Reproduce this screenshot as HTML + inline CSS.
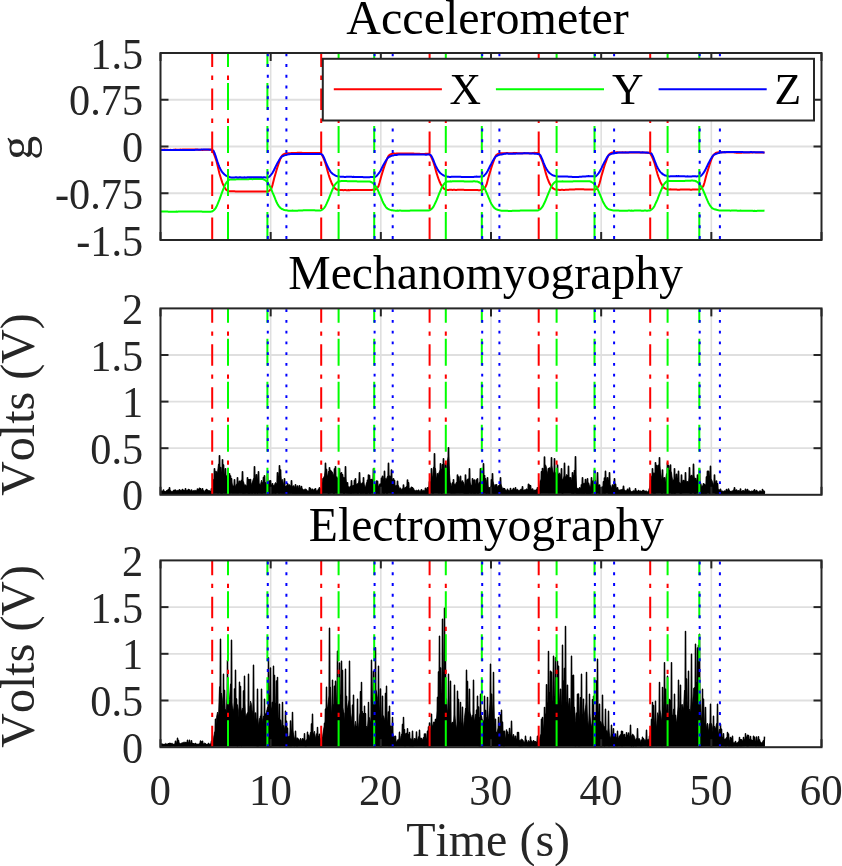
<!DOCTYPE html>
<html lang="en"><head><meta charset="utf-8"><title>Accelerometer, Mechanomyography, Electromyography</title>
<style>html,body{margin:0;padding:0;background:#fff;}svg{display:block;will-change:transform;}text{font-kerning:none;}</style></head>
<body>
<svg width="842" height="866" viewBox="0 0 842 866">
<rect x="0" y="0" width="842" height="866" fill="#ffffff"/>
<line x1="270.67" y1="53.0" x2="270.67" y2="240.0" stroke="#dfdfdf" stroke-width="1.6"/>
<line x1="380.83" y1="53.0" x2="380.83" y2="240.0" stroke="#dfdfdf" stroke-width="1.6"/>
<line x1="491.00" y1="53.0" x2="491.00" y2="240.0" stroke="#dfdfdf" stroke-width="1.6"/>
<line x1="601.17" y1="53.0" x2="601.17" y2="240.0" stroke="#dfdfdf" stroke-width="1.6"/>
<line x1="711.33" y1="53.0" x2="711.33" y2="240.0" stroke="#dfdfdf" stroke-width="1.6"/>
<line x1="160.5" y1="99.75" x2="821.5" y2="99.75" stroke="#dfdfdf" stroke-width="1.8"/>
<line x1="160.5" y1="146.50" x2="821.5" y2="146.50" stroke="#dfdfdf" stroke-width="1.8"/>
<line x1="160.5" y1="193.25" x2="821.5" y2="193.25" stroke="#dfdfdf" stroke-width="1.8"/>
<path d="M160.5 149.8 L161.5 149.7 L162.5 149.7 L163.5 149.7 L164.5 149.6 L165.5 149.7 L166.5 149.7 L167.5 149.7 L168.5 149.9 L169.5 149.9 L170.5 149.8 L171.5 149.9 L172.5 149.9 L173.5 149.8 L174.5 149.7 L175.5 149.6 L176.5 149.7 L177.5 149.8 L178.5 149.8 L179.5 149.8 L180.5 149.6 L181.5 149.7 L182.5 149.6 L183.5 149.5 L184.5 149.4 L185.5 149.4 L186.5 149.5 L187.5 149.5 L188.5 149.6 L189.5 149.6 L190.5 149.6 L191.5 149.6 L192.5 149.5 L193.5 149.4 L194.5 149.5 L195.5 149.6 L196.5 149.5 L197.5 149.5 L198.5 149.7 L199.5 149.8 L200.5 149.8 L201.5 149.8 L202.5 149.9 L203.5 149.8 L204.5 149.7 L205.5 149.8 L206.5 149.7 L207.5 149.7 L208.5 149.7 L209.5 149.6 L210.5 149.5 L211.5 149.6 L212.5 150.8 L213.5 152.9 L214.5 155.3 L215.5 158.1 L216.5 161.3 L217.5 165.2 L218.5 169.6 L219.5 173.7 L220.5 177.0 L221.5 180.2 L222.5 183.1 L223.5 185.4 L224.5 187.2 L225.5 188.8 L226.5 190.1 L227.5 190.6 L228.5 191.0 L229.5 191.2 L230.5 191.3 L231.5 191.3 L232.5 191.3 L233.5 191.3 L234.5 191.3 L235.5 191.4 L236.5 191.5 L237.5 191.5 L238.5 191.6 L239.5 191.5 L240.5 191.5 L241.5 191.4 L242.5 191.4 L243.5 191.4 L244.5 191.5 L245.5 191.5 L246.5 191.5 L247.5 191.5 L248.5 191.5 L249.5 191.5 L250.5 191.5 L251.5 191.5 L252.5 191.4 L253.5 191.4 L254.5 191.5 L255.5 191.5 L256.5 191.6 L257.5 191.6 L258.5 191.5 L259.5 191.5 L260.5 191.5 L261.5 191.5 L262.5 191.4 L263.5 191.5 L264.5 191.5 L265.5 191.5 L266.5 191.5 L267.5 191.6 L268.5 191.3 L269.5 190.5 L270.5 189.6 L271.5 188.2 L272.5 185.1 L273.5 181.1 L274.5 177.1 L275.5 173.7 L276.5 170.3 L277.5 167.0 L278.5 164.0 L279.5 161.2 L280.5 158.5 L281.5 156.4 L282.5 155.2 L283.5 154.4 L284.5 153.9 L285.5 153.5 L286.5 153.4 L287.5 153.3 L288.5 153.2 L289.5 153.3 L290.5 153.3 L291.5 153.1 L292.5 153.0 L293.5 153.0 L294.5 153.0 L295.5 152.9 L296.5 152.9 L297.5 152.8 L298.5 152.8 L299.5 152.7 L300.5 152.7 L301.5 152.8 L302.5 152.9 L303.5 153.0 L304.5 152.9 L305.5 153.0 L306.5 153.0 L307.5 153.1 L308.5 153.0 L309.5 153.0 L310.5 153.1 L311.5 153.1 L312.5 153.0 L313.5 153.1 L314.5 153.1 L315.5 153.1 L316.5 153.0 L317.5 152.9 L318.5 153.0 L319.5 153.1 L320.5 153.0 L321.5 154.1 L322.5 155.9 L323.5 158.1 L324.5 160.7 L325.5 163.4 L326.5 166.9 L327.5 170.8 L328.5 174.3 L329.5 177.4 L330.5 180.2 L331.5 182.7 L332.5 184.8 L333.5 186.4 L334.5 187.7 L335.5 188.9 L336.5 189.5 L337.5 189.8 L338.5 190.1 L339.5 190.1 L340.5 190.1 L341.5 190.1 L342.5 190.0 L343.5 190.2 L344.5 190.1 L345.5 190.1 L346.5 190.2 L347.5 190.2 L348.5 190.1 L349.5 190.2 L350.5 190.1 L351.5 190.1 L352.5 190.0 L353.5 190.0 L354.5 190.0 L355.5 190.0 L356.5 190.0 L357.5 190.0 L358.5 190.0 L359.5 189.9 L360.5 190.0 L361.5 190.0 L362.5 190.0 L363.5 190.0 L364.5 190.0 L365.5 189.9 L366.5 189.9 L367.5 189.9 L368.5 189.9 L369.5 189.9 L370.5 189.9 L371.5 189.9 L372.5 189.8 L373.5 189.8 L374.5 189.9 L375.5 189.4 L376.5 188.6 L377.5 187.7 L378.5 186.1 L379.5 182.8 L380.5 179.0 L381.5 175.4 L382.5 172.2 L383.5 168.9 L384.5 165.9 L385.5 163.1 L386.5 160.4 L387.5 157.9 L388.5 156.0 L389.5 155.0 L390.5 154.5 L391.5 154.0 L392.5 153.7 L393.5 153.6 L394.5 153.6 L395.5 153.7 L396.5 153.6 L397.5 153.5 L398.5 153.5 L399.5 153.5 L400.5 153.5 L401.5 153.5 L402.5 153.5 L403.5 153.5 L404.5 153.4 L405.5 153.4 L406.5 153.4 L407.5 153.4 L408.5 153.4 L409.5 153.5 L410.5 153.4 L411.5 153.6 L412.5 153.6 L413.5 153.6 L414.5 153.7 L415.5 153.8 L416.5 153.8 L417.5 153.8 L418.5 153.8 L419.5 153.8 L420.5 153.9 L421.5 153.9 L422.5 153.9 L423.5 154.0 L424.5 153.9 L425.5 153.8 L426.5 153.8 L427.5 153.8 L428.5 153.8 L429.5 153.9 L430.5 155.5 L431.5 157.5 L432.5 159.9 L433.5 162.5 L434.5 165.6 L435.5 169.3 L436.5 172.9 L437.5 176.0 L438.5 178.9 L439.5 181.5 L440.5 183.7 L441.5 185.4 L442.5 186.9 L443.5 188.2 L444.5 189.1 L445.5 189.4 L446.5 189.7 L447.5 189.9 L448.5 190.0 L449.5 189.8 L450.5 189.8 L451.5 189.8 L452.5 189.9 L453.5 189.8 L454.5 189.8 L455.5 189.9 L456.5 189.9 L457.5 189.8 L458.5 189.8 L459.5 189.8 L460.5 189.8 L461.5 189.8 L462.5 189.8 L463.5 189.8 L464.5 189.9 L465.5 189.9 L466.5 189.9 L467.5 189.9 L468.5 190.0 L469.5 190.0 L470.5 190.0 L471.5 190.0 L472.5 190.0 L473.5 189.9 L474.5 189.9 L475.5 190.0 L476.5 190.1 L477.5 190.1 L478.5 190.2 L479.5 190.2 L480.5 190.1 L481.5 189.9 L482.5 189.8 L483.5 189.0 L484.5 188.1 L485.5 186.9 L486.5 184.7 L487.5 181.1 L488.5 177.2 L489.5 173.9 L490.5 170.4 L491.5 167.1 L492.5 164.1 L493.5 161.3 L494.5 158.6 L495.5 156.4 L496.5 154.9 L497.5 154.2 L498.5 153.7 L499.5 153.4 L500.5 153.2 L501.5 153.2 L502.5 153.3 L503.5 153.2 L504.5 153.2 L505.5 153.2 L506.5 153.1 L507.5 153.1 L508.5 153.2 L509.5 153.3 L510.5 153.2 L511.5 153.2 L512.5 153.2 L513.5 153.1 L514.5 153.1 L515.5 153.1 L516.5 153.1 L517.5 153.2 L518.5 153.3 L519.5 153.2 L520.5 153.2 L521.5 153.3 L522.5 153.3 L523.5 153.2 L524.5 153.1 L525.5 153.2 L526.5 153.2 L527.5 153.3 L528.5 153.3 L529.5 153.3 L530.5 153.3 L531.5 153.2 L532.5 153.0 L533.5 152.9 L534.5 152.8 L535.5 152.9 L536.5 152.9 L537.5 152.9 L538.5 153.1 L539.5 154.8 L540.5 156.9 L541.5 159.2 L542.5 161.7 L543.5 164.7 L544.5 168.3 L545.5 172.1 L546.5 175.4 L547.5 178.3 L548.5 181.0 L549.5 183.3 L550.5 185.0 L551.5 186.5 L552.5 187.9 L553.5 188.7 L554.5 189.2 L555.5 189.4 L556.5 189.6 L557.5 189.7 L558.5 189.8 L559.5 189.9 L560.5 189.9 L561.5 189.8 L562.5 189.8 L563.5 189.9 L564.5 189.9 L565.5 189.8 L566.5 189.8 L567.5 189.7 L568.5 189.7 L569.5 189.6 L570.5 189.6 L571.5 189.5 L572.5 189.5 L573.5 189.5 L574.5 189.4 L575.5 189.3 L576.5 189.3 L577.5 189.2 L578.5 189.2 L579.5 189.2 L580.5 189.2 L581.5 189.2 L582.5 189.3 L583.5 189.3 L584.5 189.4 L585.5 189.4 L586.5 189.5 L587.5 189.5 L588.5 189.4 L589.5 189.4 L590.5 189.6 L591.5 189.6 L592.5 189.6 L593.5 189.6 L594.5 189.6 L595.5 189.4 L596.5 188.8 L597.5 187.7 L598.5 186.4 L599.5 183.5 L600.5 179.7 L601.5 175.7 L602.5 172.4 L603.5 169.0 L604.5 165.8 L605.5 162.8 L606.5 160.1 L607.5 157.5 L608.5 155.4 L609.5 154.1 L610.5 153.4 L611.5 152.7 L612.5 152.5 L613.5 152.4 L614.5 152.4 L615.5 152.4 L616.5 152.3 L617.5 152.3 L618.5 152.4 L619.5 152.4 L620.5 152.4 L621.5 152.4 L622.5 152.3 L623.5 152.4 L624.5 152.4 L625.5 152.3 L626.5 152.4 L627.5 152.4 L628.5 152.4 L629.5 152.4 L630.5 152.4 L631.5 152.5 L632.5 152.5 L633.5 152.4 L634.5 152.4 L635.5 152.4 L636.5 152.4 L637.5 152.5 L638.5 152.4 L639.5 152.5 L640.5 152.5 L641.5 152.4 L642.5 152.4 L643.5 152.4 L644.5 152.6 L645.5 152.7 L646.5 152.7 L647.5 152.6 L648.5 152.7 L649.5 152.7 L650.5 153.7 L651.5 155.7 L652.5 157.9 L653.5 160.5 L654.5 163.1 L655.5 166.7 L656.5 170.6 L657.5 174.1 L658.5 177.0 L659.5 179.7 L660.5 182.2 L661.5 184.1 L662.5 185.8 L663.5 187.2 L664.5 188.2 L665.5 188.7 L666.5 189.0 L667.5 189.2 L668.5 189.4 L669.5 189.4 L670.5 189.3 L671.5 189.4 L672.5 189.4 L673.5 189.5 L674.5 189.6 L675.5 189.5 L676.5 189.6 L677.5 189.7 L678.5 189.7 L679.5 189.7 L680.5 189.6 L681.5 189.6 L682.5 189.6 L683.5 189.5 L684.5 189.6 L685.5 189.6 L686.5 189.6 L687.5 189.6 L688.5 189.6 L689.5 189.5 L690.5 189.7 L691.5 189.7 L692.5 189.5 L693.5 189.5 L694.5 189.5 L695.5 189.6 L696.5 189.6 L697.5 189.5 L698.5 189.5 L699.5 189.4 L700.5 189.0 L701.5 188.2 L702.5 187.1 L703.5 185.6 L704.5 182.5 L705.5 178.5 L706.5 174.7 L707.5 171.4 L708.5 168.1 L709.5 164.9 L710.5 162.0 L711.5 159.2 L712.5 156.8 L713.5 154.9 L714.5 154.0 L715.5 153.2 L716.5 152.7 L717.5 152.4 L718.5 152.3 L719.5 152.4 L720.5 152.3 L721.5 152.3 L722.5 152.2 L723.5 152.2 L724.5 152.2 L725.5 152.3 L726.5 152.2 L727.5 152.2 L728.5 152.3 L729.5 152.2 L730.5 152.3 L731.5 152.3 L732.5 152.3 L733.5 152.3 L734.5 152.4 L735.5 152.5 L736.5 152.7 L737.5 152.7 L738.5 152.8 L739.5 152.8 L740.5 152.7 L741.5 152.7 L742.5 152.6 L743.5 152.5 L744.5 152.5 L745.5 152.5 L746.5 152.6 L747.5 152.6 L748.5 152.6 L749.5 152.6 L750.5 152.5 L751.5 152.3 L752.5 152.4 L753.5 152.3 L754.5 152.3 L755.5 152.4 L756.5 152.4 L757.5 152.5 L758.5 152.4 L759.5 152.5 L760.5 152.5 L761.5 152.6 L762.5 152.5 L763.5 152.5 L764.5 152.5" fill="none" stroke="#ff0000" stroke-width="2.0" stroke-linejoin="round" stroke-linecap="butt"/>
<path d="M160.5 211.6 L161.5 211.6 L162.5 211.6 L163.5 211.6 L164.5 211.6 L165.5 211.6 L166.5 211.6 L167.5 211.6 L168.5 211.7 L169.5 211.7 L170.5 211.7 L171.5 211.8 L172.5 211.8 L173.5 211.7 L174.5 211.7 L175.5 211.7 L176.5 211.6 L177.5 211.7 L178.5 211.6 L179.5 211.6 L180.5 211.6 L181.5 211.6 L182.5 211.6 L183.5 211.6 L184.5 211.6 L185.5 211.5 L186.5 211.5 L187.5 211.4 L188.5 211.4 L189.5 211.5 L190.5 211.5 L191.5 211.5 L192.5 211.5 L193.5 211.6 L194.5 211.6 L195.5 211.6 L196.5 211.5 L197.5 211.5 L198.5 211.5 L199.5 211.5 L200.5 211.6 L201.5 211.6 L202.5 211.7 L203.5 211.7 L204.5 211.7 L205.5 211.7 L206.5 211.7 L207.5 211.8 L208.5 211.7 L209.5 211.7 L210.5 211.7 L211.5 211.6 L212.5 211.2 L213.5 210.5 L214.5 209.6 L215.5 208.4 L216.5 206.6 L217.5 204.3 L218.5 201.9 L219.5 199.4 L220.5 196.6 L221.5 193.8 L222.5 191.1 L223.5 188.6 L224.5 186.1 L225.5 184.0 L226.5 182.5 L227.5 181.3 L228.5 180.3 L229.5 179.6 L230.5 179.4 L231.5 179.4 L232.5 179.4 L233.5 179.4 L234.5 179.4 L235.5 179.4 L236.5 179.3 L237.5 179.3 L238.5 179.3 L239.5 179.3 L240.5 179.3 L241.5 179.3 L242.5 179.3 L243.5 179.2 L244.5 179.2 L245.5 179.3 L246.5 179.3 L247.5 179.3 L248.5 179.2 L249.5 179.1 L250.5 179.1 L251.5 179.1 L252.5 179.2 L253.5 179.1 L254.5 179.0 L255.5 179.0 L256.5 179.0 L257.5 179.0 L258.5 179.1 L259.5 179.1 L260.5 179.0 L261.5 179.0 L262.5 179.0 L263.5 179.3 L264.5 179.8 L265.5 180.5 L266.5 181.2 L267.5 182.3 L268.5 183.9 L269.5 185.6 L270.5 187.5 L271.5 189.8 L272.5 192.3 L273.5 194.6 L274.5 197.0 L275.5 199.6 L276.5 202.0 L277.5 204.0 L278.5 205.6 L279.5 207.0 L280.5 208.0 L281.5 208.8 L282.5 209.2 L283.5 209.7 L284.5 210.0 L285.5 210.2 L286.5 210.3 L287.5 210.5 L288.5 210.7 L289.5 210.7 L290.5 210.7 L291.5 210.7 L292.5 210.6 L293.5 210.7 L294.5 210.7 L295.5 210.7 L296.5 210.7 L297.5 210.7 L298.5 210.6 L299.5 210.5 L300.5 210.5 L301.5 210.5 L302.5 210.4 L303.5 210.3 L304.5 210.3 L305.5 210.3 L306.5 210.3 L307.5 210.3 L308.5 210.3 L309.5 210.3 L310.5 210.3 L311.5 210.3 L312.5 210.3 L313.5 210.3 L314.5 210.3 L315.5 210.4 L316.5 210.4 L317.5 210.5 L318.5 210.5 L319.5 210.6 L320.5 210.5 L321.5 210.1 L322.5 209.5 L323.5 208.6 L324.5 207.6 L325.5 205.9 L326.5 203.9 L327.5 201.7 L328.5 199.5 L329.5 196.9 L330.5 194.3 L331.5 191.9 L332.5 189.5 L333.5 187.3 L334.5 185.3 L335.5 184.0 L336.5 182.9 L337.5 182.0 L338.5 181.4 L339.5 181.2 L340.5 181.2 L341.5 181.1 L342.5 181.1 L343.5 181.1 L344.5 181.1 L345.5 181.1 L346.5 181.1 L347.5 181.2 L348.5 181.2 L349.5 181.2 L350.5 181.2 L351.5 181.2 L352.5 181.2 L353.5 181.2 L354.5 181.2 L355.5 181.2 L356.5 181.3 L357.5 181.4 L358.5 181.4 L359.5 181.4 L360.5 181.4 L361.5 181.4 L362.5 181.4 L363.5 181.4 L364.5 181.4 L365.5 181.5 L366.5 181.5 L367.5 181.4 L368.5 181.5 L369.5 181.5 L370.5 181.8 L371.5 182.2 L372.5 182.8 L373.5 183.6 L374.5 184.7 L375.5 186.1 L376.5 187.6 L377.5 189.5 L378.5 191.7 L379.5 194.0 L380.5 196.2 L381.5 198.6 L382.5 201.1 L383.5 203.2 L384.5 204.9 L385.5 206.5 L386.5 207.8 L387.5 208.6 L388.5 209.1 L389.5 209.6 L390.5 209.9 L391.5 210.2 L392.5 210.3 L393.5 210.4 L394.5 210.6 L395.5 210.7 L396.5 210.7 L397.5 210.6 L398.5 210.7 L399.5 210.6 L400.5 210.6 L401.5 210.7 L402.5 210.7 L403.5 210.8 L404.5 210.7 L405.5 210.8 L406.5 210.7 L407.5 210.7 L408.5 210.7 L409.5 210.7 L410.5 210.6 L411.5 210.6 L412.5 210.6 L413.5 210.6 L414.5 210.5 L415.5 210.5 L416.5 210.4 L417.5 210.4 L418.5 210.4 L419.5 210.4 L420.5 210.4 L421.5 210.4 L422.5 210.4 L423.5 210.5 L424.5 210.6 L425.5 210.6 L426.5 210.6 L427.5 210.6 L428.5 210.5 L429.5 210.3 L430.5 209.7 L431.5 208.9 L432.5 208.0 L433.5 206.6 L434.5 204.6 L435.5 202.5 L436.5 200.3 L437.5 198.0 L438.5 195.4 L439.5 192.9 L440.5 190.6 L441.5 188.2 L442.5 186.2 L443.5 184.7 L444.5 183.5 L445.5 182.5 L446.5 181.7 L447.5 181.5 L448.5 181.4 L449.5 181.4 L450.5 181.3 L451.5 181.4 L452.5 181.3 L453.5 181.2 L454.5 181.3 L455.5 181.2 L456.5 181.2 L457.5 181.2 L458.5 181.3 L459.5 181.3 L460.5 181.3 L461.5 181.3 L462.5 181.2 L463.5 181.2 L464.5 181.4 L465.5 181.4 L466.5 181.4 L467.5 181.5 L468.5 181.5 L469.5 181.5 L470.5 181.5 L471.5 181.5 L472.5 181.5 L473.5 181.3 L474.5 181.3 L475.5 181.4 L476.5 181.4 L477.5 181.6 L478.5 182.0 L479.5 182.5 L480.5 183.2 L481.5 184.1 L482.5 185.2 L483.5 186.7 L484.5 188.3 L485.5 190.3 L486.5 192.6 L487.5 194.9 L488.5 197.3 L489.5 199.7 L490.5 202.1 L491.5 204.0 L492.5 205.5 L493.5 207.0 L494.5 208.1 L495.5 208.8 L496.5 209.3 L497.5 209.7 L498.5 210.0 L499.5 210.3 L500.5 210.6 L501.5 210.7 L502.5 210.8 L503.5 210.8 L504.5 210.8 L505.5 210.8 L506.5 210.8 L507.5 210.8 L508.5 210.9 L509.5 210.9 L510.5 210.9 L511.5 210.9 L512.5 210.8 L513.5 210.8 L514.5 210.8 L515.5 210.7 L516.5 210.7 L517.5 210.7 L518.5 210.7 L519.5 210.7 L520.5 210.6 L521.5 210.6 L522.5 210.5 L523.5 210.5 L524.5 210.5 L525.5 210.5 L526.5 210.5 L527.5 210.5 L528.5 210.5 L529.5 210.4 L530.5 210.5 L531.5 210.5 L532.5 210.4 L533.5 210.4 L534.5 210.5 L535.5 210.5 L536.5 210.5 L537.5 210.5 L538.5 210.2 L539.5 209.7 L540.5 208.9 L541.5 208.0 L542.5 206.7 L543.5 204.8 L544.5 202.7 L545.5 200.5 L546.5 198.1 L547.5 195.6 L548.5 193.1 L549.5 190.8 L550.5 188.4 L551.5 186.2 L552.5 184.7 L553.5 183.5 L554.5 182.4 L555.5 181.7 L556.5 181.3 L557.5 181.4 L558.5 181.4 L559.5 181.4 L560.5 181.5 L561.5 181.4 L562.5 181.3 L563.5 181.4 L564.5 181.4 L565.5 181.5 L566.5 181.5 L567.5 181.4 L568.5 181.4 L569.5 181.4 L570.5 181.4 L571.5 181.4 L572.5 181.4 L573.5 181.3 L574.5 181.3 L575.5 181.3 L576.5 181.3 L577.5 181.3 L578.5 181.2 L579.5 181.3 L580.5 181.2 L581.5 181.2 L582.5 181.2 L583.5 181.3 L584.5 181.3 L585.5 181.2 L586.5 181.2 L587.5 181.3 L588.5 181.3 L589.5 181.3 L590.5 181.5 L591.5 182.0 L592.5 182.6 L593.5 183.3 L594.5 184.3 L595.5 185.7 L596.5 187.2 L597.5 189.0 L598.5 191.1 L599.5 193.5 L600.5 195.8 L601.5 198.2 L602.5 200.6 L603.5 202.8 L604.5 204.5 L605.5 206.1 L606.5 207.5 L607.5 208.5 L608.5 209.1 L609.5 209.5 L610.5 209.8 L611.5 210.1 L612.5 210.3 L613.5 210.4 L614.5 210.5 L615.5 210.6 L616.5 210.6 L617.5 210.6 L618.5 210.6 L619.5 210.7 L620.5 210.7 L621.5 210.7 L622.5 210.7 L623.5 210.7 L624.5 210.7 L625.5 210.7 L626.5 210.7 L627.5 210.7 L628.5 210.6 L629.5 210.6 L630.5 210.7 L631.5 210.6 L632.5 210.7 L633.5 210.7 L634.5 210.6 L635.5 210.6 L636.5 210.6 L637.5 210.6 L638.5 210.6 L639.5 210.6 L640.5 210.6 L641.5 210.7 L642.5 210.7 L643.5 210.7 L644.5 210.6 L645.5 210.6 L646.5 210.7 L647.5 210.7 L648.5 210.6 L649.5 210.6 L650.5 210.2 L651.5 209.5 L652.5 208.7 L653.5 207.6 L654.5 205.9 L655.5 203.7 L656.5 201.5 L657.5 199.3 L658.5 196.7 L659.5 194.2 L660.5 191.7 L661.5 189.3 L662.5 187.0 L663.5 185.0 L664.5 183.7 L665.5 182.5 L666.5 181.5 L667.5 180.9 L668.5 180.8 L669.5 180.9 L670.5 181.0 L671.5 181.0 L672.5 181.0 L673.5 181.0 L674.5 180.9 L675.5 181.0 L676.5 181.0 L677.5 181.0 L678.5 180.9 L679.5 180.9 L680.5 180.9 L681.5 181.0 L682.5 180.9 L683.5 181.0 L684.5 180.9 L685.5 180.8 L686.5 180.8 L687.5 180.8 L688.5 180.8 L689.5 180.8 L690.5 180.8 L691.5 180.6 L692.5 180.6 L693.5 180.7 L694.5 180.7 L695.5 181.0 L696.5 181.5 L697.5 182.1 L698.5 182.9 L699.5 184.1 L700.5 185.5 L701.5 187.1 L702.5 188.9 L703.5 191.1 L704.5 193.5 L705.5 195.8 L706.5 198.3 L707.5 200.7 L708.5 202.9 L709.5 204.6 L710.5 206.2 L711.5 207.5 L712.5 208.4 L713.5 208.9 L714.5 209.2 L715.5 209.5 L716.5 209.8 L717.5 210.1 L718.5 210.3 L719.5 210.4 L720.5 210.5 L721.5 210.5 L722.5 210.5 L723.5 210.5 L724.5 210.5 L725.5 210.5 L726.5 210.6 L727.5 210.5 L728.5 210.6 L729.5 210.6 L730.5 210.7 L731.5 210.6 L732.5 210.6 L733.5 210.6 L734.5 210.6 L735.5 210.5 L736.5 210.6 L737.5 210.7 L738.5 210.7 L739.5 210.7 L740.5 210.6 L741.5 210.7 L742.5 210.7 L743.5 210.7 L744.5 210.7 L745.5 210.7 L746.5 210.7 L747.5 210.7 L748.5 210.8 L749.5 210.8 L750.5 210.8 L751.5 210.8 L752.5 210.8 L753.5 210.9 L754.5 210.8 L755.5 210.9 L756.5 210.9 L757.5 210.8 L758.5 210.8 L759.5 210.8 L760.5 210.7 L761.5 210.8 L762.5 210.7 L763.5 210.7 L764.5 210.6" fill="none" stroke="#00ff00" stroke-width="2.0" stroke-linejoin="round" stroke-linecap="butt"/>
<path d="M160.5 150.0 L161.5 150.1 L162.5 150.0 L163.5 150.0 L164.5 150.0 L165.5 150.1 L166.5 150.1 L167.5 150.0 L168.5 150.0 L169.5 150.1 L170.5 150.0 L171.5 150.0 L172.5 150.0 L173.5 150.0 L174.5 150.1 L175.5 150.0 L176.5 150.0 L177.5 150.0 L178.5 150.0 L179.5 150.0 L180.5 149.9 L181.5 150.0 L182.5 150.0 L183.5 150.0 L184.5 149.9 L185.5 150.0 L186.5 150.0 L187.5 150.0 L188.5 149.9 L189.5 149.9 L190.5 149.9 L191.5 150.0 L192.5 149.9 L193.5 149.9 L194.5 149.9 L195.5 149.8 L196.5 149.8 L197.5 149.7 L198.5 149.7 L199.5 149.8 L200.5 149.7 L201.5 149.6 L202.5 149.5 L203.5 149.5 L204.5 149.5 L205.5 149.6 L206.5 149.6 L207.5 149.5 L208.5 149.6 L209.5 149.7 L210.5 149.8 L211.5 149.8 L212.5 150.0 L213.5 150.8 L214.5 152.9 L215.5 155.5 L216.5 158.7 L217.5 161.9 L218.5 164.7 L219.5 167.1 L220.5 169.2 L221.5 171.1 L222.5 172.5 L223.5 173.5 L224.5 174.5 L225.5 175.3 L226.5 175.9 L227.5 176.4 L228.5 176.6 L229.5 177.0 L230.5 177.3 L231.5 177.4 L232.5 177.5 L233.5 177.5 L234.5 177.4 L235.5 177.3 L236.5 177.3 L237.5 177.4 L238.5 177.4 L239.5 177.3 L240.5 177.3 L241.5 177.4 L242.5 177.4 L243.5 177.4 L244.5 177.3 L245.5 177.4 L246.5 177.4 L247.5 177.2 L248.5 177.2 L249.5 177.2 L250.5 177.3 L251.5 177.3 L252.5 177.2 L253.5 177.3 L254.5 177.2 L255.5 177.2 L256.5 177.2 L257.5 177.2 L258.5 177.3 L259.5 177.3 L260.5 177.3 L261.5 177.3 L262.5 177.4 L263.5 177.3 L264.5 177.3 L265.5 177.4 L266.5 177.4 L267.5 177.3 L268.5 177.3 L269.5 176.5 L270.5 175.4 L271.5 174.2 L272.5 172.8 L273.5 171.1 L274.5 169.0 L275.5 166.9 L276.5 164.9 L277.5 163.0 L278.5 161.3 L279.5 159.5 L280.5 158.0 L281.5 156.8 L282.5 156.2 L283.5 155.8 L284.5 155.4 L285.5 155.1 L286.5 154.9 L287.5 154.6 L288.5 154.3 L289.5 154.2 L290.5 154.1 L291.5 153.9 L292.5 153.9 L293.5 153.9 L294.5 154.0 L295.5 154.0 L296.5 154.0 L297.5 154.0 L298.5 154.0 L299.5 154.0 L300.5 154.0 L301.5 154.0 L302.5 154.0 L303.5 154.0 L304.5 154.0 L305.5 153.9 L306.5 153.9 L307.5 153.9 L308.5 153.9 L309.5 153.9 L310.5 153.9 L311.5 153.9 L312.5 154.0 L313.5 154.0 L314.5 153.9 L315.5 153.9 L316.5 154.0 L317.5 154.0 L318.5 154.0 L319.5 154.1 L320.5 154.1 L321.5 154.3 L322.5 154.9 L323.5 156.8 L324.5 158.9 L325.5 161.5 L326.5 164.0 L327.5 166.3 L328.5 168.2 L329.5 170.1 L330.5 171.6 L331.5 172.8 L332.5 173.7 L333.5 174.4 L334.5 175.0 L335.5 175.6 L336.5 176.0 L337.5 176.2 L338.5 176.4 L339.5 176.6 L340.5 176.7 L341.5 176.7 L342.5 176.8 L343.5 176.8 L344.5 176.9 L345.5 176.9 L346.5 176.8 L347.5 176.8 L348.5 176.8 L349.5 176.8 L350.5 176.8 L351.5 176.8 L352.5 176.9 L353.5 176.8 L354.5 176.9 L355.5 177.0 L356.5 177.0 L357.5 177.0 L358.5 177.0 L359.5 177.0 L360.5 177.0 L361.5 177.0 L362.5 177.1 L363.5 177.2 L364.5 177.3 L365.5 177.2 L366.5 177.2 L367.5 177.2 L368.5 177.3 L369.5 177.2 L370.5 177.1 L371.5 177.0 L372.5 177.0 L373.5 177.0 L374.5 177.0 L375.5 176.8 L376.5 176.0 L377.5 174.9 L378.5 173.7 L379.5 172.3 L380.5 170.7 L381.5 168.7 L382.5 166.6 L383.5 164.7 L384.5 163.0 L385.5 161.4 L386.5 159.8 L387.5 158.3 L388.5 157.3 L389.5 156.7 L390.5 156.3 L391.5 155.9 L392.5 155.6 L393.5 155.4 L394.5 155.1 L395.5 154.9 L396.5 154.9 L397.5 154.7 L398.5 154.6 L399.5 154.5 L400.5 154.5 L401.5 154.4 L402.5 154.5 L403.5 154.5 L404.5 154.5 L405.5 154.5 L406.5 154.5 L407.5 154.6 L408.5 154.6 L409.5 154.5 L410.5 154.4 L411.5 154.4 L412.5 154.4 L413.5 154.5 L414.5 154.6 L415.5 154.6 L416.5 154.6 L417.5 154.6 L418.5 154.6 L419.5 154.5 L420.5 154.5 L421.5 154.5 L422.5 154.5 L423.5 154.5 L424.5 154.6 L425.5 154.7 L426.5 154.7 L427.5 154.6 L428.5 154.6 L429.5 154.5 L430.5 154.9 L431.5 156.1 L432.5 158.1 L433.5 160.5 L434.5 163.0 L435.5 165.4 L436.5 167.4 L437.5 169.3 L438.5 170.9 L439.5 172.2 L440.5 173.2 L441.5 174.0 L442.5 174.7 L443.5 175.4 L444.5 175.8 L445.5 176.1 L446.5 176.4 L447.5 176.7 L448.5 176.8 L449.5 176.9 L450.5 176.9 L451.5 176.7 L452.5 176.7 L453.5 176.8 L454.5 176.7 L455.5 176.7 L456.5 176.7 L457.5 176.7 L458.5 176.7 L459.5 176.8 L460.5 176.8 L461.5 176.9 L462.5 176.9 L463.5 176.9 L464.5 176.9 L465.5 177.0 L466.5 177.0 L467.5 177.0 L468.5 176.9 L469.5 177.0 L470.5 176.9 L471.5 177.0 L472.5 177.0 L473.5 176.9 L474.5 176.8 L475.5 176.7 L476.5 176.6 L477.5 176.7 L478.5 176.7 L479.5 176.7 L480.5 176.6 L481.5 176.6 L482.5 176.7 L483.5 176.2 L484.5 175.2 L485.5 174.1 L486.5 172.8 L487.5 171.2 L488.5 169.3 L489.5 167.3 L490.5 165.2 L491.5 163.4 L492.5 161.5 L493.5 159.7 L494.5 158.1 L495.5 156.8 L496.5 156.0 L497.5 155.5 L498.5 155.1 L499.5 154.8 L500.5 154.6 L501.5 154.4 L502.5 154.2 L503.5 154.0 L504.5 153.8 L505.5 153.8 L506.5 153.6 L507.5 153.6 L508.5 153.7 L509.5 153.8 L510.5 153.7 L511.5 153.8 L512.5 153.7 L513.5 153.6 L514.5 153.7 L515.5 153.7 L516.5 153.6 L517.5 153.5 L518.5 153.5 L519.5 153.5 L520.5 153.4 L521.5 153.4 L522.5 153.4 L523.5 153.3 L524.5 153.2 L525.5 153.3 L526.5 153.2 L527.5 153.3 L528.5 153.3 L529.5 153.4 L530.5 153.4 L531.5 153.4 L532.5 153.5 L533.5 153.6 L534.5 153.7 L535.5 153.8 L536.5 153.8 L537.5 153.9 L538.5 154.0 L539.5 154.4 L540.5 155.5 L541.5 157.7 L542.5 159.9 L543.5 162.6 L544.5 165.0 L545.5 167.1 L546.5 169.0 L547.5 170.6 L548.5 172.0 L549.5 173.0 L550.5 173.8 L551.5 174.5 L552.5 175.1 L553.5 175.5 L554.5 175.8 L555.5 176.1 L556.5 176.3 L557.5 176.5 L558.5 176.5 L559.5 176.5 L560.5 176.5 L561.5 176.5 L562.5 176.4 L563.5 176.4 L564.5 176.5 L565.5 176.6 L566.5 176.6 L567.5 176.6 L568.5 176.7 L569.5 176.8 L570.5 176.7 L571.5 176.8 L572.5 176.9 L573.5 176.9 L574.5 176.9 L575.5 176.9 L576.5 177.0 L577.5 177.0 L578.5 176.9 L579.5 176.8 L580.5 176.8 L581.5 176.7 L582.5 176.6 L583.5 176.5 L584.5 176.4 L585.5 176.4 L586.5 176.3 L587.5 176.2 L588.5 176.1 L589.5 176.2 L590.5 176.2 L591.5 176.3 L592.5 176.3 L593.5 176.3 L594.5 176.4 L595.5 176.4 L596.5 175.6 L597.5 174.6 L598.5 173.4 L599.5 171.9 L600.5 170.1 L601.5 168.1 L602.5 165.9 L603.5 163.9 L604.5 162.0 L605.5 160.1 L606.5 158.2 L607.5 156.6 L608.5 155.3 L609.5 154.6 L610.5 154.2 L611.5 153.9 L612.5 153.6 L613.5 153.4 L614.5 153.2 L615.5 153.0 L616.5 152.9 L617.5 152.7 L618.5 152.6 L619.5 152.4 L620.5 152.5 L621.5 152.5 L622.5 152.5 L623.5 152.6 L624.5 152.5 L625.5 152.4 L626.5 152.4 L627.5 152.4 L628.5 152.4 L629.5 152.3 L630.5 152.3 L631.5 152.3 L632.5 152.3 L633.5 152.2 L634.5 152.3 L635.5 152.3 L636.5 152.3 L637.5 152.3 L638.5 152.3 L639.5 152.3 L640.5 152.4 L641.5 152.4 L642.5 152.3 L643.5 152.4 L644.5 152.5 L645.5 152.6 L646.5 152.6 L647.5 152.7 L648.5 152.7 L649.5 152.7 L650.5 152.9 L651.5 153.6 L652.5 155.4 L653.5 157.7 L654.5 160.3 L655.5 163.0 L656.5 165.4 L657.5 167.5 L658.5 169.3 L659.5 170.9 L660.5 172.1 L661.5 173.1 L662.5 173.9 L663.5 174.7 L664.5 175.2 L665.5 175.6 L666.5 175.8 L667.5 176.0 L668.5 176.3 L669.5 176.4 L670.5 176.3 L671.5 176.3 L672.5 176.3 L673.5 176.3 L674.5 176.2 L675.5 176.2 L676.5 176.1 L677.5 176.2 L678.5 176.1 L679.5 176.2 L680.5 176.2 L681.5 176.2 L682.5 176.3 L683.5 176.3 L684.5 176.3 L685.5 176.4 L686.5 176.4 L687.5 176.3 L688.5 176.4 L689.5 176.4 L690.5 176.4 L691.5 176.4 L692.5 176.3 L693.5 176.3 L694.5 176.3 L695.5 176.3 L696.5 176.4 L697.5 176.3 L698.5 176.3 L699.5 176.3 L700.5 176.2 L701.5 175.3 L702.5 174.2 L703.5 172.9 L704.5 171.4 L705.5 169.6 L706.5 167.5 L707.5 165.3 L708.5 163.2 L709.5 161.4 L710.5 159.6 L711.5 157.9 L712.5 156.4 L713.5 155.2 L714.5 154.5 L715.5 154.0 L716.5 153.7 L717.5 153.4 L718.5 153.1 L719.5 152.9 L720.5 152.6 L721.5 152.5 L722.5 152.3 L723.5 152.2 L724.5 152.1 L725.5 152.2 L726.5 152.1 L727.5 152.0 L728.5 152.0 L729.5 152.0 L730.5 152.0 L731.5 152.0 L732.5 152.1 L733.5 152.1 L734.5 152.0 L735.5 152.1 L736.5 152.1 L737.5 152.0 L738.5 152.1 L739.5 152.1 L740.5 152.1 L741.5 152.1 L742.5 152.1 L743.5 152.2 L744.5 152.2 L745.5 152.2 L746.5 152.2 L747.5 152.2 L748.5 152.2 L749.5 152.2 L750.5 152.1 L751.5 152.1 L752.5 152.2 L753.5 152.2 L754.5 152.2 L755.5 152.2 L756.5 152.3 L757.5 152.3 L758.5 152.3 L759.5 152.3 L760.5 152.3 L761.5 152.3 L762.5 152.3 L763.5 152.4 L764.5 152.4" fill="none" stroke="#0000ff" stroke-width="2.0" stroke-linejoin="round" stroke-linecap="butt"/>
<line x1="212.2" y1="240.0" x2="212.2" y2="53.0" stroke="#ff0000" stroke-width="2.0" stroke-dasharray="21.5 8.6 4.3 8.6" stroke-dashoffset="-1"/>
<line x1="321.2" y1="240.0" x2="321.2" y2="53.0" stroke="#ff0000" stroke-width="2.0" stroke-dasharray="21.5 8.6 4.3 8.6" stroke-dashoffset="-1"/>
<line x1="429.6" y1="240.0" x2="429.6" y2="53.0" stroke="#ff0000" stroke-width="2.0" stroke-dasharray="21.5 8.6 4.3 8.6" stroke-dashoffset="-1"/>
<line x1="538.7" y1="240.0" x2="538.7" y2="53.0" stroke="#ff0000" stroke-width="2.0" stroke-dasharray="21.5 8.6 4.3 8.6" stroke-dashoffset="-1"/>
<line x1="650.2" y1="240.0" x2="650.2" y2="53.0" stroke="#ff0000" stroke-width="2.0" stroke-dasharray="21.5 8.6 4.3 8.6" stroke-dashoffset="-1"/>
<line x1="228.0" y1="240.0" x2="228.0" y2="53.0" stroke="#ff0000" stroke-width="2.0" stroke-dasharray="0 30.1 4.3 8.6" stroke-dashoffset="-1"/>
<line x1="338.6" y1="240.0" x2="338.6" y2="53.0" stroke="#ff0000" stroke-width="2.0" stroke-dasharray="0 30.1 4.3 8.6" stroke-dashoffset="-1"/>
<line x1="445.8" y1="240.0" x2="445.8" y2="53.0" stroke="#ff0000" stroke-width="2.0" stroke-dasharray="0 30.1 4.3 8.6" stroke-dashoffset="-1"/>
<line x1="556.6" y1="240.0" x2="556.6" y2="53.0" stroke="#ff0000" stroke-width="2.0" stroke-dasharray="0 30.1 4.3 8.6" stroke-dashoffset="-1"/>
<line x1="667.6" y1="240.0" x2="667.6" y2="53.0" stroke="#ff0000" stroke-width="2.0" stroke-dasharray="0 30.1 4.3 8.6" stroke-dashoffset="-1"/>
<line x1="228.0" y1="240.0" x2="228.0" y2="53.0" stroke="#00ff00" stroke-width="2.0" stroke-dasharray="27 16" stroke-dashoffset="-1"/>
<line x1="338.6" y1="240.0" x2="338.6" y2="53.0" stroke="#00ff00" stroke-width="2.0" stroke-dasharray="27 16" stroke-dashoffset="-1"/>
<line x1="445.8" y1="240.0" x2="445.8" y2="53.0" stroke="#00ff00" stroke-width="2.0" stroke-dasharray="27 16" stroke-dashoffset="-1"/>
<line x1="556.6" y1="240.0" x2="556.6" y2="53.0" stroke="#00ff00" stroke-width="2.0" stroke-dasharray="27 16" stroke-dashoffset="-1"/>
<line x1="667.6" y1="240.0" x2="667.6" y2="53.0" stroke="#00ff00" stroke-width="2.0" stroke-dasharray="27 16" stroke-dashoffset="-1"/>
<line x1="267.4" y1="240.0" x2="267.4" y2="53.0" stroke="#00ff00" stroke-width="2.0" stroke-dasharray="27 16" stroke-dashoffset="-1"/>
<line x1="374.2" y1="240.0" x2="374.2" y2="53.0" stroke="#00ff00" stroke-width="2.0" stroke-dasharray="27 16" stroke-dashoffset="-1"/>
<line x1="481.8" y1="240.0" x2="481.8" y2="53.0" stroke="#00ff00" stroke-width="2.0" stroke-dasharray="27 16" stroke-dashoffset="-1"/>
<line x1="594.5" y1="240.0" x2="594.5" y2="53.0" stroke="#00ff00" stroke-width="2.0" stroke-dasharray="27 16" stroke-dashoffset="-1"/>
<line x1="699.3" y1="240.0" x2="699.3" y2="53.0" stroke="#00ff00" stroke-width="2.0" stroke-dasharray="27 16" stroke-dashoffset="-1"/>
<line x1="267.79999999999995" y1="240.0" x2="267.79999999999995" y2="53.0" stroke="#0000ff" stroke-width="2.0" stroke-dasharray="2.9 7.85" stroke-dashoffset="-1"/>
<line x1="374.59999999999997" y1="240.0" x2="374.59999999999997" y2="53.0" stroke="#0000ff" stroke-width="2.0" stroke-dasharray="2.9 7.85" stroke-dashoffset="-1"/>
<line x1="482.2" y1="240.0" x2="482.2" y2="53.0" stroke="#0000ff" stroke-width="2.0" stroke-dasharray="2.9 7.85" stroke-dashoffset="-1"/>
<line x1="594.9" y1="240.0" x2="594.9" y2="53.0" stroke="#0000ff" stroke-width="2.0" stroke-dasharray="2.9 7.85" stroke-dashoffset="-1"/>
<line x1="699.6999999999999" y1="240.0" x2="699.6999999999999" y2="53.0" stroke="#0000ff" stroke-width="2.0" stroke-dasharray="2.9 7.85" stroke-dashoffset="-1"/>
<line x1="286.4" y1="240.0" x2="286.4" y2="53.0" stroke="#0000ff" stroke-width="2.0" stroke-dasharray="2.9 7.85" stroke-dashoffset="-1"/>
<line x1="392.7" y1="240.0" x2="392.7" y2="53.0" stroke="#0000ff" stroke-width="2.0" stroke-dasharray="2.9 7.85" stroke-dashoffset="-1"/>
<line x1="499.4" y1="240.0" x2="499.4" y2="53.0" stroke="#0000ff" stroke-width="2.0" stroke-dasharray="2.9 7.85" stroke-dashoffset="-1"/>
<line x1="614.1" y1="240.0" x2="614.1" y2="53.0" stroke="#0000ff" stroke-width="2.0" stroke-dasharray="2.9 7.85" stroke-dashoffset="-1"/>
<line x1="719.9" y1="240.0" x2="719.9" y2="53.0" stroke="#0000ff" stroke-width="2.0" stroke-dasharray="2.9 7.85" stroke-dashoffset="-1"/>
<line x1="160.50" y1="240.0" x2="160.50" y2="232.0" stroke="#262626" stroke-width="2.0"/>
<line x1="160.50" y1="53.0" x2="160.50" y2="61.0" stroke="#262626" stroke-width="2.0"/>
<line x1="270.67" y1="240.0" x2="270.67" y2="232.0" stroke="#262626" stroke-width="2.0"/>
<line x1="270.67" y1="53.0" x2="270.67" y2="61.0" stroke="#262626" stroke-width="2.0"/>
<line x1="380.83" y1="240.0" x2="380.83" y2="232.0" stroke="#262626" stroke-width="2.0"/>
<line x1="380.83" y1="53.0" x2="380.83" y2="61.0" stroke="#262626" stroke-width="2.0"/>
<line x1="491.00" y1="240.0" x2="491.00" y2="232.0" stroke="#262626" stroke-width="2.0"/>
<line x1="491.00" y1="53.0" x2="491.00" y2="61.0" stroke="#262626" stroke-width="2.0"/>
<line x1="601.17" y1="240.0" x2="601.17" y2="232.0" stroke="#262626" stroke-width="2.0"/>
<line x1="601.17" y1="53.0" x2="601.17" y2="61.0" stroke="#262626" stroke-width="2.0"/>
<line x1="711.33" y1="240.0" x2="711.33" y2="232.0" stroke="#262626" stroke-width="2.0"/>
<line x1="711.33" y1="53.0" x2="711.33" y2="61.0" stroke="#262626" stroke-width="2.0"/>
<line x1="821.50" y1="240.0" x2="821.50" y2="232.0" stroke="#262626" stroke-width="2.0"/>
<line x1="821.50" y1="53.0" x2="821.50" y2="61.0" stroke="#262626" stroke-width="2.0"/>
<line x1="160.5" y1="99.75" x2="168.5" y2="99.75" stroke="#262626" stroke-width="2.0"/>
<line x1="821.5" y1="99.75" x2="813.5" y2="99.75" stroke="#262626" stroke-width="2.0"/>
<line x1="160.5" y1="146.50" x2="168.5" y2="146.50" stroke="#262626" stroke-width="2.0"/>
<line x1="821.5" y1="146.50" x2="813.5" y2="146.50" stroke="#262626" stroke-width="2.0"/>
<line x1="160.5" y1="193.25" x2="168.5" y2="193.25" stroke="#262626" stroke-width="2.0"/>
<line x1="821.5" y1="193.25" x2="813.5" y2="193.25" stroke="#262626" stroke-width="2.0"/>
<rect x="160.5" y="53.0" width="661.0" height="187.0" fill="none" stroke="#262626" stroke-width="2.0"/>
<line x1="270.67" y1="308.4" x2="270.67" y2="494.8" stroke="#dfdfdf" stroke-width="1.6"/>
<line x1="380.83" y1="308.4" x2="380.83" y2="494.8" stroke="#dfdfdf" stroke-width="1.6"/>
<line x1="491.00" y1="308.4" x2="491.00" y2="494.8" stroke="#dfdfdf" stroke-width="1.6"/>
<line x1="601.17" y1="308.4" x2="601.17" y2="494.8" stroke="#dfdfdf" stroke-width="1.6"/>
<line x1="711.33" y1="308.4" x2="711.33" y2="494.8" stroke="#dfdfdf" stroke-width="1.6"/>
<line x1="160.5" y1="448.20" x2="821.5" y2="448.20" stroke="#dfdfdf" stroke-width="1.8"/>
<line x1="160.5" y1="401.60" x2="821.5" y2="401.60" stroke="#dfdfdf" stroke-width="1.8"/>
<line x1="160.5" y1="355.00" x2="821.5" y2="355.00" stroke="#dfdfdf" stroke-width="1.8"/>
<path d="M161.5 493.8 L161.5 490.8 L162.5 491.1 L163.5 491.2 L164.5 491.5 L165.5 491.5 L166.5 490.5 L167.5 490.1 L168.5 490.6 L169.5 490.2 L170.5 490.6 L171.5 491.3 L172.5 491.5 L173.5 490.1 L174.5 490.0 L175.5 489.9 L176.5 491.1 L177.5 490.4 L178.5 490.4 L179.5 490.6 L180.5 490.4 L181.5 490.2 L182.5 491.4 L183.5 490.6 L184.5 491.2 L185.5 490.5 L186.5 490.4 L187.5 490.3 L188.5 490.6 L189.5 490.3 L190.5 491.5 L191.5 491.6 L192.5 491.0 L193.5 490.5 L194.5 490.4 L195.5 490.3 L196.5 491.4 L197.5 490.5 L198.5 490.7 L199.5 491.3 L200.5 490.8 L201.5 490.4 L202.5 491.4 L203.5 490.2 L204.5 491.4 L205.5 491.6 L206.5 491.2 L207.5 490.5 L208.5 490.6 L209.5 490.5 L210.5 491.5 L211.5 490.3 L212.5 487.9 L213.5 482.9 L214.5 478.3 L215.5 471.1 L216.5 471.4 L217.5 472.5 L218.5 463.9 L219.5 466.7 L220.5 473.4 L221.5 473.7 L222.5 469.8 L223.5 474.9 L224.5 475.7 L225.5 476.4 L226.5 476.1 L227.5 474.7 L228.5 481.3 L229.5 476.9 L230.5 480.8 L231.5 482.2 L232.5 485.6 L233.5 485.9 L234.5 486.2 L235.5 486.3 L236.5 483.9 L237.5 485.9 L238.5 485.9 L239.5 481.5 L240.5 481.5 L241.5 485.3 L242.5 481.5 L243.5 481.7 L244.5 485.2 L245.5 484.7 L246.5 486.1 L247.5 487.1 L248.5 485.4 L249.5 487.7 L250.5 485.5 L251.5 484.0 L252.5 481.8 L253.5 478.4 L254.5 483.1 L255.5 482.0 L256.5 479.0 L257.5 481.5 L258.5 483.8 L259.5 484.0 L260.5 484.4 L261.5 480.2 L262.5 483.8 L263.5 483.0 L264.5 483.4 L265.5 482.2 L266.5 483.4 L267.5 483.6 L268.5 482.2 L269.5 485.6 L270.5 487.8 L271.5 485.6 L272.5 486.5 L273.5 486.8 L274.5 484.4 L275.5 482.5 L276.5 483.6 L277.5 483.7 L278.5 482.7 L279.5 475.6 L280.5 475.7 L281.5 481.3 L282.5 479.4 L283.5 484.0 L284.5 485.5 L285.5 486.7 L286.5 485.6 L287.5 486.5 L288.5 484.7 L289.5 484.6 L290.5 485.7 L291.5 487.1 L292.5 487.8 L293.5 486.2 L294.5 487.6 L295.5 488.3 L296.5 490.2 L297.5 487.8 L298.5 489.6 L299.5 489.3 L300.5 490.2 L301.5 488.5 L302.5 488.8 L303.5 490.0 L304.5 489.3 L305.5 489.0 L306.5 489.4 L307.5 491.0 L308.5 491.1 L309.5 490.7 L310.5 490.5 L311.5 491.0 L312.5 491.1 L313.5 491.0 L314.5 489.7 L315.5 489.9 L316.5 491.1 L317.5 490.6 L318.5 489.9 L319.5 490.9 L320.5 489.1 L321.5 487.3 L322.5 478.7 L323.5 477.6 L324.5 475.8 L325.5 470.7 L326.5 475.7 L327.5 476.1 L328.5 471.2 L329.5 472.2 L330.5 478.1 L331.5 478.5 L332.5 472.2 L333.5 475.7 L334.5 472.8 L335.5 476.3 L336.5 478.8 L337.5 478.5 L338.5 476.1 L339.5 474.3 L340.5 473.0 L341.5 477.3 L342.5 476.2 L343.5 477.6 L344.5 477.5 L345.5 478.8 L346.5 483.2 L347.5 487.6 L348.5 486.6 L349.5 487.4 L350.5 486.0 L351.5 486.9 L352.5 488.1 L353.5 485.0 L354.5 487.4 L355.5 485.5 L356.5 484.0 L357.5 483.6 L358.5 483.1 L359.5 479.8 L360.5 484.0 L361.5 483.3 L362.5 482.7 L363.5 482.3 L364.5 486.1 L365.5 486.9 L366.5 482.6 L367.5 483.1 L368.5 483.8 L369.5 480.4 L370.5 479.2 L371.5 482.4 L372.5 481.4 L373.5 479.7 L374.5 482.5 L375.5 483.9 L376.5 486.6 L377.5 485.5 L378.5 486.5 L379.5 483.9 L380.5 483.7 L381.5 484.6 L382.5 485.6 L383.5 485.8 L384.5 483.2 L385.5 478.4 L386.5 479.1 L387.5 476.1 L388.5 480.8 L389.5 476.3 L390.5 476.3 L391.5 484.8 L392.5 485.7 L393.5 484.0 L394.5 486.4 L395.5 487.0 L396.5 485.3 L397.5 485.6 L398.5 485.6 L399.5 488.5 L400.5 487.8 L401.5 489.5 L402.5 488.7 L403.5 488.1 L404.5 488.8 L405.5 487.5 L406.5 486.2 L407.5 488.2 L408.5 488.1 L409.5 488.6 L410.5 487.9 L411.5 489.5 L412.5 490.3 L413.5 491.0 L414.5 489.9 L415.5 491.0 L416.5 490.0 L417.5 490.9 L418.5 489.7 L419.5 491.3 L420.5 491.2 L421.5 489.8 L422.5 491.1 L423.5 490.3 L424.5 490.8 L425.5 490.4 L426.5 490.3 L427.5 490.5 L428.5 489.1 L429.5 485.3 L430.5 485.2 L431.5 475.6 L432.5 477.6 L433.5 467.1 L434.5 467.6 L435.5 468.4 L436.5 478.6 L437.5 476.2 L438.5 473.7 L439.5 471.3 L440.5 469.6 L441.5 469.0 L442.5 475.1 L443.5 469.8 L444.5 473.7 L445.5 476.1 L446.5 468.5 L447.5 459.9 L448.5 456.3 L449.5 473.7 L450.5 486.4 L451.5 487.5 L452.5 488.5 L453.5 485.2 L454.5 483.9 L455.5 484.3 L456.5 482.0 L457.5 485.2 L458.5 481.7 L459.5 484.9 L460.5 484.0 L461.5 481.9 L462.5 483.9 L463.5 482.2 L464.5 485.3 L465.5 486.1 L466.5 480.2 L467.5 479.0 L468.5 478.7 L469.5 480.8 L470.5 484.3 L471.5 486.8 L472.5 483.9 L473.5 483.8 L474.5 486.7 L475.5 484.8 L476.5 485.5 L477.5 485.0 L478.5 483.6 L479.5 481.9 L480.5 483.6 L481.5 481.6 L482.5 480.7 L483.5 478.4 L484.5 479.9 L485.5 478.0 L486.5 481.2 L487.5 485.0 L488.5 488.5 L489.5 490.2 L490.5 488.2 L491.5 486.0 L492.5 480.7 L493.5 483.3 L494.5 485.7 L495.5 488.8 L496.5 488.7 L497.5 488.1 L498.5 486.1 L499.5 485.0 L500.5 483.8 L501.5 485.9 L502.5 488.4 L503.5 488.7 L504.5 490.9 L505.5 490.3 L506.5 491.1 L507.5 491.4 L508.5 490.3 L509.5 491.6 L510.5 491.3 L511.5 490.5 L512.5 490.3 L513.5 491.0 L514.5 491.4 L515.5 490.3 L516.5 489.8 L517.5 489.2 L518.5 490.4 L519.5 490.3 L520.5 489.3 L521.5 488.9 L522.5 490.0 L523.5 490.3 L524.5 489.8 L525.5 489.7 L526.5 488.8 L527.5 489.6 L528.5 489.8 L529.5 487.5 L530.5 488.7 L531.5 490.4 L532.5 488.9 L533.5 490.4 L534.5 490.1 L535.5 490.1 L536.5 490.0 L537.5 488.3 L538.5 488.2 L539.5 487.3 L540.5 481.8 L541.5 478.5 L542.5 476.9 L543.5 472.6 L544.5 470.0 L545.5 464.8 L546.5 467.4 L547.5 474.4 L548.5 477.1 L549.5 471.0 L550.5 470.0 L551.5 465.5 L552.5 469.6 L553.5 474.1 L554.5 471.5 L555.5 473.8 L556.5 471.3 L557.5 473.0 L558.5 477.7 L559.5 472.8 L560.5 474.5 L561.5 480.3 L562.5 479.3 L563.5 478.1 L564.5 475.5 L565.5 477.7 L566.5 474.4 L567.5 477.2 L568.5 479.8 L569.5 477.4 L570.5 480.0 L571.5 483.6 L572.5 480.6 L573.5 475.5 L574.5 476.2 L575.5 474.4 L576.5 486.3 L577.5 491.5 L578.5 490.2 L579.5 487.1 L580.5 488.6 L581.5 486.7 L582.5 484.3 L583.5 483.3 L584.5 483.1 L585.5 484.7 L586.5 487.5 L587.5 485.8 L588.5 483.5 L589.5 486.1 L590.5 487.4 L591.5 482.2 L592.5 480.8 L593.5 480.3 L594.5 483.2 L595.5 479.9 L596.5 484.3 L597.5 484.3 L598.5 487.7 L599.5 489.1 L600.5 487.5 L601.5 487.3 L602.5 486.9 L603.5 485.8 L604.5 485.8 L605.5 485.0 L606.5 483.2 L607.5 479.4 L608.5 481.9 L609.5 484.9 L610.5 485.5 L611.5 487.3 L612.5 489.5 L613.5 488.6 L614.5 485.9 L615.5 485.8 L616.5 489.8 L617.5 490.6 L618.5 489.8 L619.5 490.1 L620.5 489.8 L621.5 489.5 L622.5 489.1 L623.5 490.7 L624.5 489.7 L625.5 490.8 L626.5 490.7 L627.5 491.1 L628.5 490.9 L629.5 489.7 L630.5 491.1 L631.5 491.5 L632.5 491.2 L633.5 490.4 L634.5 490.9 L635.5 491.0 L636.5 490.8 L637.5 491.3 L638.5 490.6 L639.5 491.1 L640.5 491.3 L641.5 491.4 L642.5 490.3 L643.5 490.6 L644.5 491.0 L645.5 491.0 L646.5 490.9 L647.5 491.8 L648.5 491.7 L649.5 488.9 L650.5 485.0 L651.5 476.5 L652.5 475.0 L653.5 472.8 L654.5 473.1 L655.5 473.4 L656.5 471.9 L657.5 465.8 L658.5 464.7 L659.5 465.8 L660.5 472.0 L661.5 477.7 L662.5 480.9 L663.5 477.8 L664.5 484.3 L665.5 480.3 L666.5 473.6 L667.5 475.1 L668.5 469.8 L669.5 475.4 L670.5 471.1 L671.5 472.4 L672.5 480.7 L673.5 480.7 L674.5 481.0 L675.5 479.8 L676.5 477.9 L677.5 480.9 L678.5 482.1 L679.5 482.8 L680.5 484.7 L681.5 482.3 L682.5 483.4 L683.5 480.7 L684.5 482.6 L685.5 479.5 L686.5 482.2 L687.5 481.0 L688.5 482.8 L689.5 477.6 L690.5 483.0 L691.5 481.3 L692.5 479.7 L693.5 475.0 L694.5 478.7 L695.5 482.5 L696.5 480.2 L697.5 480.8 L698.5 484.6 L699.5 482.0 L700.5 482.4 L701.5 485.5 L702.5 488.9 L703.5 487.6 L704.5 488.6 L705.5 487.5 L706.5 483.5 L707.5 484.3 L708.5 479.2 L709.5 476.2 L710.5 479.6 L711.5 479.4 L712.5 481.8 L713.5 484.3 L714.5 485.4 L715.5 483.6 L716.5 484.6 L717.5 488.3 L718.5 490.1 L719.5 489.7 L720.5 491.6 L721.5 490.9 L722.5 491.0 L723.5 491.4 L724.5 491.1 L725.5 491.2 L726.5 491.5 L727.5 491.3 L728.5 490.7 L729.5 490.3 L730.5 491.4 L731.5 491.2 L732.5 491.5 L733.5 489.7 L734.5 491.2 L735.5 490.8 L736.5 491.4 L737.5 490.7 L738.5 490.6 L739.5 490.8 L740.5 490.7 L741.5 491.5 L742.5 490.5 L743.5 490.8 L744.5 491.7 L745.5 491.4 L746.5 492.0 L747.5 490.9 L748.5 490.8 L749.5 491.3 L750.5 491.5 L751.5 490.9 L752.5 491.5 L753.5 491.9 L754.5 491.1 L755.5 491.5 L756.5 490.7 L757.5 491.3 L758.5 491.8 L759.5 490.9 L760.5 490.7 L761.5 491.8 L762.5 491.6 L763.5 491.3 L764.5 491.0 L764.5 493.8 Z" fill="#000" stroke="#000" stroke-width="0.8" stroke-linejoin="miter"/>
<path d="M161.5 491.2 L162.0 493.4 L162.5 492.4 L163.0 493.4 L163.5 490.2 L164.0 493.4 L164.5 491.7 L165.0 493.4 L165.5 492.5 L166.0 493.4 L166.5 492.5 L167.0 493.4 L167.5 491.0 L168.0 493.5 L168.5 489.9 L169.0 493.6 L169.5 487.8 L170.0 493.7 L170.5 492.6 L171.0 493.4 L171.5 493.2 L172.0 493.4 L172.5 493.5 L173.0 493.4 L173.5 491.8 L174.0 493.6 L174.5 491.0 L175.0 493.6 L175.5 490.3 L176.0 493.4 L176.5 493.5 L177.0 493.4 L177.5 491.3 L178.0 493.6 L178.5 491.6 L179.0 493.4 L179.5 489.9 L180.0 493.4 L180.5 491.0 L181.0 493.4 L181.5 493.5 L182.0 493.7 L182.5 489.5 L183.0 493.4 L183.5 490.6 L184.0 493.4 L184.5 491.2 L185.0 493.4 L185.5 488.8 L186.0 493.6 L186.5 492.0 L187.0 493.7 L187.5 491.2 L188.0 493.4 L188.5 489.5 L189.0 493.5 L189.5 490.2 L190.0 493.4 L190.5 493.5 L191.0 493.6 L191.5 490.0 L192.0 493.4 L192.5 492.8 L193.0 493.6 L193.5 493.2 L194.0 493.7 L194.5 492.4 L195.0 493.4 L195.5 492.3 L196.0 493.5 L196.5 491.0 L197.0 493.4 L197.5 489.0 L198.0 493.6 L198.5 489.8 L199.0 493.4 L199.5 488.3 L200.0 493.4 L200.5 488.9 L201.0 493.4 L201.5 490.8 L202.0 493.4 L202.5 488.8 L203.0 493.6 L203.5 493.1 L204.0 493.4 L204.5 493.4 L205.0 493.4 L205.5 490.6 L206.0 493.4 L206.5 489.6 L207.0 493.4 L207.5 490.4 L208.0 493.8 L208.5 493.2 L209.0 493.6 L209.5 493.6 L210.0 493.4 L210.5 491.9 L211.0 493.7 L211.5 488.8 L212.0 493.0 L212.5 491.2 L213.0 492.7 L213.5 479.8 L214.0 492.3 L214.5 468.8 L215.0 491.9 L215.5 480.1 L216.0 491.7 L216.5 491.8 L217.0 491.5 L217.5 485.6 L218.0 492.9 L218.5 482.8 L219.0 491.0 L219.5 455.8 L220.0 491.0 L220.5 467.7 L221.0 492.9 L221.5 492.8 L222.0 493.2 L222.5 459.8 L223.0 491.4 L223.5 465.2 L224.0 491.6 L224.5 479.5 L225.0 492.6 L225.5 468.8 L226.0 491.9 L226.5 487.4 L227.0 492.0 L227.5 486.5 L228.0 492.1 L228.5 487.3 L229.0 492.8 L229.5 473.8 L230.0 492.8 L230.5 476.2 L231.0 492.4 L231.5 478.8 L232.0 492.5 L232.5 491.6 L233.0 492.8 L233.5 489.6 L234.0 492.7 L234.5 479.8 L235.0 492.7 L235.5 490.7 L236.0 492.7 L236.5 492.2 L237.0 492.6 L237.5 477.8 L238.0 493.0 L238.5 492.4 L239.0 492.5 L239.5 481.4 L240.0 492.4 L240.5 486.5 L241.0 492.8 L241.5 480.4 L242.0 492.2 L242.5 471.8 L243.0 493.6 L243.5 491.7 L244.0 492.3 L244.5 492.6 L245.0 493.0 L245.5 487.6 L246.0 492.5 L246.5 486.4 L247.0 492.6 L247.5 477.8 L248.0 492.8 L248.5 479.9 L249.0 493.8 L249.5 479.8 L250.0 492.8 L250.5 479.7 L251.0 492.5 L251.5 492.9 L252.0 492.3 L252.5 493.1 L253.0 492.1 L253.5 481.1 L254.0 491.9 L254.5 466.8 L255.0 493.3 L255.5 491.4 L256.0 491.9 L256.5 474.8 L257.0 492.0 L257.5 493.4 L258.0 492.8 L258.5 471.8 L259.0 492.2 L259.5 490.3 L260.0 492.9 L260.5 490.6 L261.0 492.3 L261.5 491.3 L262.0 493.3 L262.5 483.2 L263.0 492.4 L263.5 477.6 L264.0 492.4 L264.5 475.8 L265.0 492.4 L265.5 488.7 L266.0 492.4 L266.5 488.0 L267.0 492.8 L267.5 473.8 L268.0 493.2 L268.5 483.2 L269.0 493.0 L269.5 481.0 L270.0 492.7 L270.5 480.9 L271.0 492.8 L271.5 491.5 L272.0 493.1 L272.5 483.8 L273.0 492.9 L273.5 486.1 L274.0 492.7 L274.5 490.0 L275.0 492.6 L275.5 493.3 L276.0 492.4 L276.5 492.2 L277.0 492.2 L277.5 472.8 L278.0 492.2 L278.5 481.7 L279.0 493.2 L279.5 465.8 L280.0 492.6 L280.5 470.0 L281.0 492.7 L281.5 487.0 L282.0 492.8 L282.5 489.2 L283.0 492.3 L283.5 492.8 L284.0 492.5 L284.5 478.8 L285.0 492.7 L285.5 486.8 L286.0 493.2 L286.5 491.2 L287.0 492.7 L287.5 483.6 L288.0 492.8 L288.5 490.3 L289.0 492.8 L289.5 489.9 L290.0 492.8 L290.5 491.6 L291.0 492.8 L291.5 480.8 L292.0 492.9 L292.5 489.5 L293.0 493.7 L293.5 486.2 L294.0 493.0 L294.5 492.2 L295.0 493.7 L295.5 484.8 L296.0 493.1 L296.5 493.8 L297.0 493.1 L297.5 486.1 L298.0 493.8 L298.5 491.2 L299.0 493.3 L299.5 485.8 L300.0 493.2 L300.5 489.9 L301.0 493.5 L301.5 486.7 L302.0 493.2 L302.5 489.9 L303.0 493.2 L303.5 492.1 L304.0 493.3 L304.5 492.7 L305.0 493.3 L305.5 492.4 L306.0 493.3 L306.5 493.6 L307.0 493.3 L307.5 493.6 L308.0 493.7 L308.5 493.0 L309.0 493.3 L309.5 487.8 L310.0 493.4 L310.5 488.5 L311.0 493.4 L311.5 490.4 L312.0 493.4 L312.5 489.3 L313.0 493.4 L313.5 492.7 L314.0 493.4 L314.5 489.5 L315.0 493.4 L315.5 488.8 L316.0 493.4 L316.5 492.1 L317.0 493.4 L317.5 492.9 L318.0 493.4 L318.5 489.3 L319.0 493.4 L319.5 487.8 L320.0 493.4 L320.5 490.5 L321.0 493.6 L321.5 493.0 L322.0 492.6 L322.5 491.8 L323.0 492.3 L323.5 485.9 L324.0 491.9 L324.5 486.3 L325.0 491.5 L325.5 463.4 L326.0 491.9 L326.5 469.7 L327.0 491.7 L327.5 482.0 L328.0 491.7 L328.5 493.1 L329.0 491.8 L329.5 467.8 L330.0 492.8 L330.5 470.6 L331.0 491.8 L331.5 471.5 L332.0 491.8 L332.5 480.1 L333.0 491.8 L333.5 477.4 L334.0 493.8 L334.5 469.1 L335.0 491.8 L335.5 466.8 L336.0 491.8 L336.5 477.0 L337.0 492.3 L337.5 478.9 L338.0 491.9 L338.5 482.7 L339.0 492.1 L339.5 468.8 L340.0 491.9 L340.5 485.0 L341.0 491.9 L341.5 472.8 L342.0 492.2 L342.5 474.8 L343.0 491.8 L343.5 490.0 L344.0 493.6 L344.5 489.5 L345.0 492.5 L345.5 466.8 L346.0 492.3 L346.5 483.7 L347.0 492.8 L347.5 482.8 L348.0 493.0 L348.5 488.1 L349.0 492.9 L349.5 490.4 L350.0 493.0 L350.5 486.9 L351.0 493.6 L351.5 480.8 L352.0 492.8 L352.5 486.2 L353.0 492.8 L353.5 492.4 L354.0 492.8 L354.5 480.7 L355.0 492.7 L355.5 478.8 L356.0 492.7 L356.5 492.0 L357.0 492.6 L357.5 489.6 L358.0 493.3 L358.5 489.7 L359.0 492.3 L359.5 472.8 L360.0 492.2 L360.5 491.6 L361.0 493.4 L361.5 488.4 L362.0 492.4 L362.5 485.3 L363.0 493.1 L363.5 477.8 L364.0 492.6 L364.5 491.4 L365.0 492.6 L365.5 491.0 L366.0 493.8 L366.5 490.0 L367.0 493.6 L367.5 480.3 L368.0 492.4 L368.5 475.1 L369.0 492.4 L369.5 475.6 L370.0 493.6 L370.5 485.6 L371.0 492.2 L371.5 479.6 L372.0 492.7 L372.5 484.7 L373.0 492.0 L373.5 468.8 L374.0 492.0 L374.5 487.8 L375.0 493.6 L375.5 491.9 L376.0 493.2 L376.5 481.2 L377.0 492.8 L377.5 481.3 L378.0 492.8 L378.5 489.6 L379.0 492.7 L379.5 493.8 L380.0 492.8 L380.5 489.1 L381.0 493.5 L381.5 478.4 L382.0 492.5 L382.5 476.3 L383.0 492.4 L383.5 486.6 L384.0 493.5 L384.5 471.4 L385.0 492.1 L385.5 490.4 L386.0 491.9 L386.5 486.0 L387.0 493.8 L387.5 484.1 L388.0 491.9 L388.5 463.4 L389.0 491.6 L389.5 476.1 L390.0 491.8 L390.5 490.1 L391.0 492.7 L391.5 470.1 L392.0 492.3 L392.5 490.5 L393.0 492.5 L393.5 478.8 L394.0 493.0 L394.5 480.6 L395.0 492.7 L395.5 486.1 L396.0 493.4 L396.5 493.5 L397.0 492.8 L397.5 481.3 L398.0 492.9 L398.5 488.9 L399.0 492.9 L399.5 489.9 L400.0 493.0 L400.5 492.5 L401.0 493.5 L401.5 491.8 L402.0 493.1 L402.5 493.1 L403.0 493.5 L403.5 485.1 L404.0 493.1 L404.5 488.4 L405.0 493.0 L405.5 488.1 L406.0 492.9 L406.5 490.8 L407.0 493.7 L407.5 480.1 L408.0 493.6 L408.5 482.9 L409.0 493.0 L409.5 491.1 L410.0 493.4 L410.5 490.9 L411.0 493.2 L411.5 487.3 L412.0 493.3 L412.5 487.8 L413.0 493.4 L413.5 489.1 L414.0 493.4 L414.5 493.0 L415.0 493.4 L415.5 492.3 L416.0 493.4 L416.5 492.5 L417.0 493.4 L417.5 491.6 L418.0 493.4 L418.5 490.6 L419.0 493.4 L419.5 492.7 L420.0 493.4 L420.5 493.3 L421.0 493.8 L421.5 489.9 L422.0 493.7 L422.5 492.8 L423.0 493.4 L423.5 491.6 L424.0 493.4 L424.5 492.9 L425.0 493.4 L425.5 488.3 L426.0 493.5 L426.5 490.2 L427.0 493.4 L427.5 487.8 L428.0 493.4 L428.5 488.2 L429.0 493.0 L429.5 481.9 L430.0 492.6 L430.5 487.2 L431.0 492.2 L431.5 468.8 L432.0 491.8 L432.5 489.0 L433.0 493.2 L433.5 481.5 L434.0 491.1 L434.5 453.8 L435.0 491.0 L435.5 481.8 L436.0 491.6 L436.5 490.6 L437.0 492.2 L437.5 473.8 L438.0 492.5 L438.5 486.9 L439.0 493.0 L439.5 487.3 L440.0 491.6 L440.5 463.8 L441.0 491.9 L441.5 493.1 L442.0 493.1 L442.5 464.9 L443.0 491.2 L443.5 458.8 L444.0 492.0 L444.5 481.3 L445.0 491.7 L445.5 463.8 L446.0 491.7 L446.5 479.8 L447.0 491.1 L447.5 481.2 L448.0 490.6 L448.5 447.8 L449.0 491.0 L449.5 482.3 L450.0 492.1 L450.5 483.8 L451.0 493.0 L451.5 488.6 L452.0 492.9 L452.5 483.2 L453.0 492.8 L453.5 479.8 L454.0 492.8 L454.5 490.0 L455.0 492.6 L455.5 491.3 L456.0 492.5 L456.5 487.1 L457.0 492.4 L457.5 475.1 L458.0 492.4 L458.5 477.0 L459.0 492.4 L459.5 481.8 L460.0 492.7 L460.5 476.3 L461.0 492.5 L461.5 485.1 L462.0 492.5 L462.5 481.0 L463.0 492.4 L463.5 488.7 L464.0 492.8 L464.5 493.7 L465.0 492.4 L465.5 475.1 L466.0 493.3 L466.5 484.7 L467.0 493.1 L467.5 483.5 L468.0 493.1 L468.5 493.7 L469.0 491.9 L469.5 468.8 L470.0 492.2 L470.5 485.3 L471.0 493.7 L471.5 490.6 L472.0 493.0 L472.5 478.8 L473.0 492.7 L473.5 480.5 L474.0 493.6 L474.5 480.0 L475.0 493.7 L475.5 491.2 L476.0 492.7 L476.5 480.0 L477.0 492.7 L477.5 478.8 L478.0 493.7 L478.5 487.4 L479.0 492.3 L479.5 486.6 L480.0 492.1 L480.5 468.8 L481.0 492.6 L481.5 487.6 L482.0 491.8 L482.5 487.7 L483.0 493.1 L483.5 463.8 L484.0 492.2 L484.5 475.5 L485.0 491.9 L485.5 483.1 L486.0 492.2 L486.5 493.3 L487.0 492.6 L487.5 477.8 L488.0 492.9 L488.5 490.1 L489.0 493.2 L489.5 487.8 L490.0 493.2 L490.5 492.5 L491.0 492.8 L491.5 479.8 L492.0 492.7 L492.5 473.8 L493.0 493.0 L493.5 487.4 L494.0 493.8 L494.5 489.2 L495.0 493.1 L495.5 485.1 L496.0 493.1 L496.5 484.9 L497.0 493.0 L497.5 488.4 L498.0 492.9 L498.5 486.1 L499.0 492.8 L499.5 492.0 L500.0 493.4 L500.5 477.8 L501.0 492.6 L501.5 490.3 L502.0 493.0 L502.5 493.4 L503.0 493.1 L503.5 488.5 L504.0 493.3 L504.5 488.8 L505.0 493.4 L505.5 490.3 L506.0 493.6 L506.5 493.3 L507.0 493.7 L507.5 489.4 L508.0 493.4 L508.5 491.8 L509.0 493.7 L509.5 491.0 L510.0 493.4 L510.5 488.7 L511.0 493.4 L511.5 492.4 L512.0 493.4 L512.5 490.0 L513.0 493.6 L513.5 488.6 L514.0 493.4 L514.5 492.3 L515.0 493.6 L515.5 487.8 L516.0 493.3 L516.5 490.7 L517.0 493.4 L517.5 490.7 L518.0 493.3 L518.5 492.9 L519.0 493.3 L519.5 493.7 L520.0 493.7 L520.5 493.1 L521.0 493.2 L521.5 491.2 L522.0 493.8 L522.5 486.8 L523.0 493.2 L523.5 491.4 L524.0 493.6 L524.5 492.9 L525.0 493.2 L525.5 490.5 L526.0 493.1 L526.5 493.0 L527.0 493.1 L527.5 490.3 L528.0 493.3 L528.5 484.3 L529.0 493.1 L529.5 485.4 L530.0 493.1 L530.5 485.8 L531.0 493.7 L531.5 491.0 L532.0 493.7 L532.5 489.2 L533.0 493.4 L533.5 493.0 L534.0 493.3 L534.5 492.7 L535.0 493.3 L535.5 492.6 L536.0 493.3 L536.5 490.4 L537.0 493.4 L537.5 487.8 L538.0 493.1 L538.5 491.1 L539.0 492.8 L539.5 487.3 L540.0 492.9 L540.5 481.2 L541.0 492.2 L541.5 471.8 L542.0 491.9 L542.5 468.6 L543.0 491.6 L543.5 475.4 L544.0 491.3 L544.5 457.1 L545.0 491.1 L545.5 483.4 L546.0 491.3 L546.5 471.9 L547.0 491.5 L547.5 475.4 L548.0 491.8 L548.5 468.8 L549.0 492.6 L549.5 468.0 L550.0 491.6 L550.5 490.1 L551.0 491.3 L551.5 457.8 L552.0 491.1 L552.5 474.2 L553.0 491.1 L553.5 478.8 L554.0 491.2 L554.5 458.8 L555.0 492.6 L555.5 483.3 L556.0 491.4 L556.5 475.7 L557.0 491.6 L557.5 465.1 L558.0 491.7 L558.5 474.3 L559.0 491.8 L559.5 480.0 L560.0 491.8 L560.5 489.8 L561.0 491.9 L561.5 468.8 L562.0 491.8 L562.5 493.5 L563.0 491.7 L563.5 487.6 L564.0 491.6 L564.5 463.4 L565.0 492.0 L565.5 484.4 L566.0 491.6 L566.5 477.3 L567.0 491.7 L567.5 475.7 L568.0 491.7 L568.5 466.4 L569.0 491.8 L569.5 487.2 L570.0 491.9 L570.5 477.8 L571.0 492.1 L571.5 484.0 L572.0 493.2 L572.5 472.8 L573.0 491.9 L573.5 493.2 L574.0 491.7 L574.5 470.7 L575.0 492.6 L575.5 456.8 L576.0 491.9 L576.5 492.9 L577.0 493.1 L577.5 488.8 L578.0 493.3 L578.5 489.2 L579.0 493.1 L579.5 492.6 L580.0 493.0 L580.5 489.4 L581.0 492.8 L581.5 484.8 L582.0 493.1 L582.5 477.8 L583.0 492.8 L583.5 486.2 L584.0 493.4 L584.5 487.6 L585.0 492.6 L585.5 479.7 L586.0 492.7 L586.5 486.8 L587.0 493.7 L587.5 478.8 L588.0 493.3 L588.5 483.4 L589.0 492.6 L589.5 493.7 L590.0 492.6 L590.5 488.4 L591.0 492.8 L591.5 477.8 L592.0 492.4 L592.5 490.4 L593.0 492.2 L593.5 484.7 L594.0 492.1 L594.5 470.1 L595.0 492.1 L595.5 493.5 L596.0 492.7 L596.5 489.9 L597.0 492.2 L597.5 472.8 L598.0 492.5 L598.5 492.0 L599.0 492.9 L599.5 485.1 L600.0 493.1 L600.5 490.3 L601.0 493.8 L601.5 491.7 L602.0 493.0 L602.5 490.0 L603.0 492.9 L603.5 481.8 L604.0 492.6 L604.5 478.0 L605.0 493.2 L605.5 471.4 L606.0 492.1 L606.5 488.9 L607.0 492.1 L607.5 477.9 L608.0 492.3 L608.5 490.7 L609.0 493.6 L609.5 472.8 L610.0 492.3 L610.5 488.9 L611.0 493.7 L611.5 493.1 L612.0 493.1 L612.5 485.1 L613.0 493.0 L613.5 493.4 L614.0 492.8 L614.5 478.8 L615.0 493.6 L615.5 484.3 L616.0 493.0 L616.5 490.0 L617.0 493.7 L617.5 487.8 L618.0 493.8 L618.5 493.0 L619.0 493.3 L619.5 492.7 L620.0 493.5 L620.5 493.8 L621.0 493.3 L621.5 491.5 L622.0 493.3 L622.5 492.7 L623.0 493.5 L623.5 486.3 L624.0 493.4 L624.5 492.2 L625.0 493.7 L625.5 493.0 L626.0 493.3 L626.5 491.4 L627.0 493.8 L627.5 489.3 L628.0 493.3 L628.5 490.9 L629.0 493.3 L629.5 488.1 L630.0 493.3 L630.5 493.2 L631.0 493.4 L631.5 493.5 L632.0 493.4 L632.5 492.4 L633.0 493.6 L633.5 492.8 L634.0 493.4 L634.5 491.8 L635.0 493.4 L635.5 488.8 L636.0 493.4 L636.5 492.2 L637.0 493.4 L637.5 492.3 L638.0 493.7 L638.5 490.7 L639.0 493.4 L639.5 493.6 L640.0 493.8 L640.5 491.4 L641.0 493.4 L641.5 491.8 L642.0 493.4 L642.5 492.9 L643.0 493.6 L643.5 490.7 L644.0 493.4 L644.5 492.6 L645.0 493.5 L645.5 493.5 L646.0 493.4 L646.5 493.5 L647.0 493.6 L647.5 492.9 L648.0 493.5 L648.5 492.1 L649.0 493.4 L649.5 488.8 L650.0 492.9 L650.5 480.3 L651.0 492.5 L651.5 487.5 L652.0 492.0 L652.5 468.8 L653.0 491.8 L653.5 492.9 L654.0 491.7 L654.5 481.5 L655.0 493.2 L655.5 462.8 L656.0 491.5 L656.5 465.6 L657.0 491.3 L657.5 480.8 L658.0 492.5 L658.5 485.2 L659.0 491.1 L659.5 457.8 L660.0 491.4 L660.5 480.6 L661.0 491.7 L661.5 485.3 L662.0 493.6 L662.5 470.1 L663.0 492.2 L663.5 486.0 L664.0 492.5 L664.5 477.8 L665.0 493.0 L665.5 488.5 L666.0 492.1 L666.5 484.2 L667.0 491.7 L667.5 462.8 L668.0 491.5 L668.5 465.9 L669.0 492.7 L669.5 470.8 L670.0 492.1 L670.5 465.1 L671.0 492.4 L671.5 478.2 L672.0 493.7 L672.5 488.2 L673.0 491.8 L673.5 480.2 L674.0 493.3 L674.5 468.8 L675.0 493.2 L675.5 491.3 L676.0 492.0 L676.5 474.4 L677.0 492.1 L677.5 478.9 L678.0 492.1 L678.5 471.4 L679.0 492.2 L679.5 483.2 L680.0 492.2 L680.5 493.3 L681.0 493.6 L681.5 475.1 L682.0 492.4 L682.5 485.3 L683.0 492.4 L683.5 480.5 L684.0 492.3 L684.5 482.7 L685.0 492.3 L685.5 472.8 L686.0 492.2 L686.5 490.8 L687.0 492.1 L687.5 487.1 L688.0 492.5 L688.5 491.3 L689.0 491.9 L689.5 467.8 L690.0 492.8 L690.5 477.3 L691.0 493.5 L691.5 475.7 L692.0 491.7 L692.5 479.0 L693.0 491.6 L693.5 464.4 L694.0 491.7 L694.5 491.9 L695.0 493.7 L695.5 478.5 L696.0 492.7 L696.5 487.4 L697.0 492.5 L697.5 475.1 L698.0 492.2 L698.5 485.4 L699.0 492.0 L699.5 468.8 L700.0 492.2 L700.5 493.5 L701.0 492.6 L701.5 488.6 L702.0 493.2 L702.5 486.3 L703.0 493.8 L703.5 483.8 L704.0 493.1 L704.5 484.7 L705.0 492.8 L705.5 491.7 L706.0 493.6 L706.5 477.1 L707.0 492.2 L707.5 471.4 L708.0 492.2 L708.5 471.4 L709.0 491.9 L709.5 485.1 L710.0 493.5 L710.5 466.4 L711.0 493.5 L711.5 490.8 L712.0 492.0 L712.5 492.3 L713.0 492.1 L713.5 490.0 L714.0 492.3 L714.5 475.1 L715.0 492.4 L715.5 491.7 L716.0 493.4 L716.5 481.1 L717.0 492.9 L717.5 483.8 L718.0 493.1 L718.5 490.4 L719.0 493.8 L719.5 493.7 L720.0 493.5 L720.5 489.3 L721.0 493.5 L721.5 492.5 L722.0 493.4 L722.5 493.1 L723.0 493.4 L723.5 493.8 L724.0 493.5 L724.5 491.3 L725.0 493.4 L725.5 491.6 L726.0 493.5 L726.5 489.6 L727.0 493.6 L727.5 492.8 L728.0 493.4 L728.5 489.2 L729.0 493.7 L729.5 493.5 L730.0 493.4 L730.5 491.8 L731.0 493.4 L731.5 493.4 L732.0 493.4 L732.5 491.3 L733.0 493.8 L733.5 491.6 L734.0 493.4 L734.5 487.8 L735.0 493.4 L735.5 491.7 L736.0 493.5 L736.5 490.1 L737.0 493.4 L737.5 492.4 L738.0 493.4 L738.5 491.4 L739.0 493.7 L739.5 492.6 L740.0 493.6 L740.5 489.1 L741.0 493.4 L741.5 491.7 L742.0 493.4 L742.5 492.5 L743.0 493.4 L743.5 491.1 L744.0 493.5 L744.5 491.5 L745.0 493.5 L745.5 489.3 L746.0 493.5 L746.5 491.5 L747.0 493.5 L747.5 489.7 L748.0 493.5 L748.5 492.1 L749.0 493.5 L749.5 491.3 L750.0 493.5 L750.5 492.4 L751.0 493.5 L751.5 493.1 L752.0 493.5 L752.5 491.5 L753.0 493.5 L753.5 491.1 L754.0 493.5 L754.5 489.8 L755.0 493.5 L755.5 492.4 L756.0 493.5 L756.5 490.6 L757.0 493.5 L757.5 493.5 L758.0 493.5 L758.5 493.2 L759.0 493.5 L759.5 493.2 L760.0 493.8 L760.5 492.7 L761.0 493.7 L761.5 492.3 L762.0 493.8 L762.5 489.7 L763.0 493.6 L763.5 491.0 L764.0 493.5 L764.5 491.5" fill="none" stroke="#000000" stroke-width="1.7" stroke-linejoin="round" stroke-linecap="butt"/>
<line x1="212.2" y1="494.8" x2="212.2" y2="308.4" stroke="#ff0000" stroke-width="2.0" stroke-dasharray="21.5 8.6 4.3 8.6" stroke-dashoffset="0"/>
<line x1="321.2" y1="494.8" x2="321.2" y2="308.4" stroke="#ff0000" stroke-width="2.0" stroke-dasharray="21.5 8.6 4.3 8.6" stroke-dashoffset="0"/>
<line x1="429.6" y1="494.8" x2="429.6" y2="308.4" stroke="#ff0000" stroke-width="2.0" stroke-dasharray="21.5 8.6 4.3 8.6" stroke-dashoffset="0"/>
<line x1="538.7" y1="494.8" x2="538.7" y2="308.4" stroke="#ff0000" stroke-width="2.0" stroke-dasharray="21.5 8.6 4.3 8.6" stroke-dashoffset="0"/>
<line x1="650.2" y1="494.8" x2="650.2" y2="308.4" stroke="#ff0000" stroke-width="2.0" stroke-dasharray="21.5 8.6 4.3 8.6" stroke-dashoffset="0"/>
<line x1="228.0" y1="494.8" x2="228.0" y2="308.4" stroke="#ff0000" stroke-width="2.0" stroke-dasharray="0 30.1 4.3 8.6" stroke-dashoffset="0"/>
<line x1="338.6" y1="494.8" x2="338.6" y2="308.4" stroke="#ff0000" stroke-width="2.0" stroke-dasharray="0 30.1 4.3 8.6" stroke-dashoffset="0"/>
<line x1="445.8" y1="494.8" x2="445.8" y2="308.4" stroke="#ff0000" stroke-width="2.0" stroke-dasharray="0 30.1 4.3 8.6" stroke-dashoffset="0"/>
<line x1="556.6" y1="494.8" x2="556.6" y2="308.4" stroke="#ff0000" stroke-width="2.0" stroke-dasharray="0 30.1 4.3 8.6" stroke-dashoffset="0"/>
<line x1="667.6" y1="494.8" x2="667.6" y2="308.4" stroke="#ff0000" stroke-width="2.0" stroke-dasharray="0 30.1 4.3 8.6" stroke-dashoffset="0"/>
<line x1="228.0" y1="494.8" x2="228.0" y2="308.4" stroke="#00ff00" stroke-width="2.0" stroke-dasharray="27 16" stroke-dashoffset="0"/>
<line x1="338.6" y1="494.8" x2="338.6" y2="308.4" stroke="#00ff00" stroke-width="2.0" stroke-dasharray="27 16" stroke-dashoffset="0"/>
<line x1="445.8" y1="494.8" x2="445.8" y2="308.4" stroke="#00ff00" stroke-width="2.0" stroke-dasharray="27 16" stroke-dashoffset="0"/>
<line x1="556.6" y1="494.8" x2="556.6" y2="308.4" stroke="#00ff00" stroke-width="2.0" stroke-dasharray="27 16" stroke-dashoffset="0"/>
<line x1="667.6" y1="494.8" x2="667.6" y2="308.4" stroke="#00ff00" stroke-width="2.0" stroke-dasharray="27 16" stroke-dashoffset="0"/>
<line x1="267.4" y1="494.8" x2="267.4" y2="308.4" stroke="#00ff00" stroke-width="2.0" stroke-dasharray="27 16" stroke-dashoffset="0"/>
<line x1="374.2" y1="494.8" x2="374.2" y2="308.4" stroke="#00ff00" stroke-width="2.0" stroke-dasharray="27 16" stroke-dashoffset="0"/>
<line x1="481.8" y1="494.8" x2="481.8" y2="308.4" stroke="#00ff00" stroke-width="2.0" stroke-dasharray="27 16" stroke-dashoffset="0"/>
<line x1="594.5" y1="494.8" x2="594.5" y2="308.4" stroke="#00ff00" stroke-width="2.0" stroke-dasharray="27 16" stroke-dashoffset="0"/>
<line x1="699.3" y1="494.8" x2="699.3" y2="308.4" stroke="#00ff00" stroke-width="2.0" stroke-dasharray="27 16" stroke-dashoffset="0"/>
<line x1="267.79999999999995" y1="494.8" x2="267.79999999999995" y2="308.4" stroke="#0000ff" stroke-width="2.0" stroke-dasharray="2.9 7.85" stroke-dashoffset="0"/>
<line x1="374.59999999999997" y1="494.8" x2="374.59999999999997" y2="308.4" stroke="#0000ff" stroke-width="2.0" stroke-dasharray="2.9 7.85" stroke-dashoffset="0"/>
<line x1="482.2" y1="494.8" x2="482.2" y2="308.4" stroke="#0000ff" stroke-width="2.0" stroke-dasharray="2.9 7.85" stroke-dashoffset="0"/>
<line x1="594.9" y1="494.8" x2="594.9" y2="308.4" stroke="#0000ff" stroke-width="2.0" stroke-dasharray="2.9 7.85" stroke-dashoffset="0"/>
<line x1="699.6999999999999" y1="494.8" x2="699.6999999999999" y2="308.4" stroke="#0000ff" stroke-width="2.0" stroke-dasharray="2.9 7.85" stroke-dashoffset="0"/>
<line x1="286.4" y1="494.8" x2="286.4" y2="308.4" stroke="#0000ff" stroke-width="2.0" stroke-dasharray="2.9 7.85" stroke-dashoffset="0"/>
<line x1="392.7" y1="494.8" x2="392.7" y2="308.4" stroke="#0000ff" stroke-width="2.0" stroke-dasharray="2.9 7.85" stroke-dashoffset="0"/>
<line x1="499.4" y1="494.8" x2="499.4" y2="308.4" stroke="#0000ff" stroke-width="2.0" stroke-dasharray="2.9 7.85" stroke-dashoffset="0"/>
<line x1="614.1" y1="494.8" x2="614.1" y2="308.4" stroke="#0000ff" stroke-width="2.0" stroke-dasharray="2.9 7.85" stroke-dashoffset="0"/>
<line x1="719.9" y1="494.8" x2="719.9" y2="308.4" stroke="#0000ff" stroke-width="2.0" stroke-dasharray="2.9 7.85" stroke-dashoffset="0"/>
<line x1="160.50" y1="494.8" x2="160.50" y2="486.8" stroke="#262626" stroke-width="2.0"/>
<line x1="160.50" y1="308.4" x2="160.50" y2="316.4" stroke="#262626" stroke-width="2.0"/>
<line x1="270.67" y1="494.8" x2="270.67" y2="486.8" stroke="#262626" stroke-width="2.0"/>
<line x1="270.67" y1="308.4" x2="270.67" y2="316.4" stroke="#262626" stroke-width="2.0"/>
<line x1="380.83" y1="494.8" x2="380.83" y2="486.8" stroke="#262626" stroke-width="2.0"/>
<line x1="380.83" y1="308.4" x2="380.83" y2="316.4" stroke="#262626" stroke-width="2.0"/>
<line x1="491.00" y1="494.8" x2="491.00" y2="486.8" stroke="#262626" stroke-width="2.0"/>
<line x1="491.00" y1="308.4" x2="491.00" y2="316.4" stroke="#262626" stroke-width="2.0"/>
<line x1="601.17" y1="494.8" x2="601.17" y2="486.8" stroke="#262626" stroke-width="2.0"/>
<line x1="601.17" y1="308.4" x2="601.17" y2="316.4" stroke="#262626" stroke-width="2.0"/>
<line x1="711.33" y1="494.8" x2="711.33" y2="486.8" stroke="#262626" stroke-width="2.0"/>
<line x1="711.33" y1="308.4" x2="711.33" y2="316.4" stroke="#262626" stroke-width="2.0"/>
<line x1="821.50" y1="494.8" x2="821.50" y2="486.8" stroke="#262626" stroke-width="2.0"/>
<line x1="821.50" y1="308.4" x2="821.50" y2="316.4" stroke="#262626" stroke-width="2.0"/>
<line x1="160.5" y1="448.20" x2="168.5" y2="448.20" stroke="#262626" stroke-width="2.0"/>
<line x1="821.5" y1="448.20" x2="813.5" y2="448.20" stroke="#262626" stroke-width="2.0"/>
<line x1="160.5" y1="401.60" x2="168.5" y2="401.60" stroke="#262626" stroke-width="2.0"/>
<line x1="821.5" y1="401.60" x2="813.5" y2="401.60" stroke="#262626" stroke-width="2.0"/>
<line x1="160.5" y1="355.00" x2="168.5" y2="355.00" stroke="#262626" stroke-width="2.0"/>
<line x1="821.5" y1="355.00" x2="813.5" y2="355.00" stroke="#262626" stroke-width="2.0"/>
<rect x="160.5" y="308.4" width="661.0" height="186.40000000000003" fill="none" stroke="#262626" stroke-width="2.0"/>
<line x1="270.67" y1="560.4" x2="270.67" y2="747.2" stroke="#dfdfdf" stroke-width="1.6"/>
<line x1="380.83" y1="560.4" x2="380.83" y2="747.2" stroke="#dfdfdf" stroke-width="1.6"/>
<line x1="491.00" y1="560.4" x2="491.00" y2="747.2" stroke="#dfdfdf" stroke-width="1.6"/>
<line x1="601.17" y1="560.4" x2="601.17" y2="747.2" stroke="#dfdfdf" stroke-width="1.6"/>
<line x1="711.33" y1="560.4" x2="711.33" y2="747.2" stroke="#dfdfdf" stroke-width="1.6"/>
<line x1="160.5" y1="700.50" x2="821.5" y2="700.50" stroke="#dfdfdf" stroke-width="1.8"/>
<line x1="160.5" y1="653.80" x2="821.5" y2="653.80" stroke="#dfdfdf" stroke-width="1.8"/>
<line x1="160.5" y1="607.10" x2="821.5" y2="607.10" stroke="#dfdfdf" stroke-width="1.8"/>
<path d="M161.5 746.2 L161.5 743.8 L162.5 744.0 L163.5 744.3 L164.5 744.2 L165.5 743.4 L166.5 743.9 L167.5 744.0 L168.5 743.6 L169.5 743.2 L170.5 744.3 L171.5 743.3 L172.5 743.4 L173.5 744.3 L174.5 744.4 L175.5 742.9 L176.5 743.7 L177.5 743.8 L178.5 743.5 L179.5 743.1 L180.5 743.8 L181.5 743.1 L182.5 742.7 L183.5 742.3 L184.5 742.2 L185.5 742.3 L186.5 742.3 L187.5 743.4 L188.5 742.7 L189.5 743.1 L190.5 744.3 L191.5 744.1 L192.5 744.0 L193.5 744.0 L194.5 744.1 L195.5 743.9 L196.5 744.1 L197.5 744.1 L198.5 744.1 L199.5 743.4 L200.5 744.0 L201.5 744.3 L202.5 743.0 L203.5 743.9 L204.5 742.9 L205.5 743.5 L206.5 744.3 L207.5 744.4 L208.5 743.3 L209.5 744.2 L210.5 744.6 L211.5 742.2 L212.5 742.1 L213.5 739.2 L214.5 732.2 L215.5 731.1 L216.5 717.5 L217.5 712.1 L218.5 716.7 L219.5 686.6 L220.5 699.2 L221.5 693.1 L222.5 700.8 L223.5 712.2 L224.5 700.0 L225.5 716.9 L226.5 709.7 L227.5 691.6 L228.5 708.3 L229.5 699.4 L230.5 683.8 L231.5 702.2 L232.5 707.8 L233.5 712.3 L234.5 700.8 L235.5 709.4 L236.5 713.7 L237.5 704.6 L238.5 711.2 L239.5 724.1 L240.5 706.6 L241.5 712.3 L242.5 708.2 L243.5 713.3 L244.5 703.5 L245.5 716.8 L246.5 714.7 L247.5 712.5 L248.5 717.3 L249.5 711.8 L250.5 701.1 L251.5 704.4 L252.5 717.3 L253.5 701.7 L254.5 721.8 L255.5 722.1 L256.5 719.9 L257.5 717.5 L258.5 726.3 L259.5 718.4 L260.5 718.5 L261.5 712.8 L262.5 724.7 L263.5 715.9 L264.5 727.6 L265.5 714.3 L266.5 712.1 L267.5 707.1 L268.5 708.0 L269.5 717.2 L270.5 708.3 L271.5 708.8 L272.5 706.0 L273.5 720.6 L274.5 711.2 L275.5 703.1 L276.5 705.5 L277.5 717.2 L278.5 720.6 L279.5 720.4 L280.5 719.9 L281.5 729.9 L282.5 725.4 L283.5 726.5 L284.5 728.4 L285.5 733.4 L286.5 731.4 L287.5 735.9 L288.5 736.7 L289.5 738.2 L290.5 731.1 L291.5 733.1 L292.5 730.0 L293.5 734.3 L294.5 739.5 L295.5 736.4 L296.5 739.2 L297.5 741.2 L298.5 739.8 L299.5 741.1 L300.5 738.1 L301.5 740.2 L302.5 741.5 L303.5 738.9 L304.5 739.8 L305.5 741.3 L306.5 739.6 L307.5 741.2 L308.5 737.3 L309.5 737.2 L310.5 732.2 L311.5 736.5 L312.5 734.0 L313.5 733.5 L314.5 731.2 L315.5 738.6 L316.5 733.6 L317.5 740.7 L318.5 740.6 L319.5 740.1 L320.5 739.3 L321.5 737.3 L322.5 736.6 L323.5 729.7 L324.5 726.3 L325.5 720.8 L326.5 706.3 L327.5 708.0 L328.5 699.7 L329.5 695.3 L330.5 686.9 L331.5 714.6 L332.5 704.7 L333.5 704.6 L334.5 713.1 L335.5 712.5 L336.5 707.7 L337.5 692.5 L338.5 686.5 L339.5 709.3 L340.5 694.8 L341.5 695.5 L342.5 707.4 L343.5 711.4 L344.5 722.4 L345.5 716.1 L346.5 708.6 L347.5 707.6 L348.5 702.5 L349.5 699.3 L350.5 712.9 L351.5 718.5 L352.5 723.7 L353.5 723.3 L354.5 728.5 L355.5 721.3 L356.5 730.3 L357.5 721.9 L358.5 729.3 L359.5 715.4 L360.5 712.5 L361.5 714.9 L362.5 711.3 L363.5 725.5 L364.5 727.3 L365.5 731.3 L366.5 726.1 L367.5 727.6 L368.5 719.5 L369.5 717.5 L370.5 723.3 L371.5 715.9 L372.5 704.7 L373.5 703.1 L374.5 704.9 L375.5 689.2 L376.5 691.8 L377.5 698.6 L378.5 704.3 L379.5 716.0 L380.5 726.2 L381.5 719.3 L382.5 719.9 L383.5 715.7 L384.5 719.1 L385.5 720.9 L386.5 726.5 L387.5 722.3 L388.5 716.8 L389.5 725.9 L390.5 725.9 L391.5 726.0 L392.5 735.0 L393.5 736.7 L394.5 736.0 L395.5 742.2 L396.5 742.0 L397.5 739.8 L398.5 739.2 L399.5 741.4 L400.5 741.4 L401.5 733.9 L402.5 734.9 L403.5 733.0 L404.5 733.0 L405.5 733.7 L406.5 738.0 L407.5 738.0 L408.5 736.9 L409.5 739.3 L410.5 738.6 L411.5 739.9 L412.5 737.2 L413.5 741.4 L414.5 738.0 L415.5 739.0 L416.5 738.3 L417.5 740.4 L418.5 736.6 L419.5 739.0 L420.5 737.8 L421.5 741.0 L422.5 740.0 L423.5 737.1 L424.5 741.5 L425.5 739.9 L426.5 740.7 L427.5 739.6 L428.5 735.8 L429.5 731.6 L430.5 732.2 L431.5 725.5 L432.5 726.0 L433.5 721.8 L434.5 729.7 L435.5 719.2 L436.5 719.3 L437.5 710.8 L438.5 717.0 L439.5 706.4 L440.5 705.5 L441.5 703.3 L442.5 691.7 L443.5 676.2 L444.5 685.1 L445.5 707.3 L446.5 698.6 L447.5 716.0 L448.5 699.9 L449.5 715.7 L450.5 725.3 L451.5 723.3 L452.5 726.6 L453.5 723.0 L454.5 714.9 L455.5 721.8 L456.5 729.1 L457.5 724.4 L458.5 725.5 L459.5 727.8 L460.5 722.2 L461.5 730.0 L462.5 721.1 L463.5 728.2 L464.5 717.5 L465.5 708.1 L466.5 715.5 L467.5 722.8 L468.5 715.6 L469.5 710.9 L470.5 714.8 L471.5 718.5 L472.5 714.9 L473.5 719.4 L474.5 720.3 L475.5 714.3 L476.5 715.8 L477.5 722.5 L478.5 718.8 L479.5 717.1 L480.5 720.5 L481.5 715.5 L482.5 721.2 L483.5 722.3 L484.5 719.5 L485.5 721.5 L486.5 717.4 L487.5 719.4 L488.5 718.8 L489.5 710.3 L490.5 700.0 L491.5 711.3 L492.5 714.7 L493.5 703.9 L494.5 727.3 L495.5 730.3 L496.5 737.3 L497.5 730.6 L498.5 727.6 L499.5 726.2 L500.5 731.8 L501.5 725.6 L502.5 731.4 L503.5 738.0 L504.5 741.4 L505.5 738.2 L506.5 738.9 L507.5 735.2 L508.5 734.0 L509.5 735.8 L510.5 734.8 L511.5 737.9 L512.5 736.5 L513.5 734.1 L514.5 737.3 L515.5 739.4 L516.5 739.2 L517.5 739.9 L518.5 740.1 L519.5 740.3 L520.5 740.2 L521.5 738.9 L522.5 739.5 L523.5 741.1 L524.5 743.0 L525.5 740.4 L526.5 741.2 L527.5 742.8 L528.5 740.4 L529.5 741.5 L530.5 742.5 L531.5 740.6 L532.5 742.3 L533.5 740.5 L534.5 741.2 L535.5 742.2 L536.5 742.2 L537.5 741.5 L538.5 740.5 L539.5 738.5 L540.5 735.0 L541.5 734.0 L542.5 731.3 L543.5 730.8 L544.5 723.8 L545.5 721.0 L546.5 719.4 L547.5 702.7 L548.5 707.1 L549.5 698.6 L550.5 709.4 L551.5 695.3 L552.5 713.7 L553.5 710.3 L554.5 695.9 L555.5 709.2 L556.5 714.4 L557.5 702.2 L558.5 692.0 L559.5 702.2 L560.5 699.2 L561.5 717.1 L562.5 690.8 L563.5 680.5 L564.5 710.7 L565.5 704.9 L566.5 713.4 L567.5 707.7 L568.5 705.0 L569.5 700.5 L570.5 715.0 L571.5 710.8 L572.5 704.9 L573.5 719.0 L574.5 706.9 L575.5 720.2 L576.5 725.0 L577.5 727.3 L578.5 710.6 L579.5 724.2 L580.5 703.7 L581.5 724.0 L582.5 714.3 L583.5 727.4 L584.5 713.0 L585.5 707.5 L586.5 702.3 L587.5 720.3 L588.5 726.8 L589.5 713.1 L590.5 720.9 L591.5 727.3 L592.5 723.3 L593.5 716.6 L594.5 726.6 L595.5 712.0 L596.5 722.0 L597.5 710.8 L598.5 712.6 L599.5 725.8 L600.5 722.5 L601.5 725.6 L602.5 722.1 L603.5 726.1 L604.5 726.5 L605.5 729.3 L606.5 732.4 L607.5 733.8 L608.5 728.0 L609.5 735.6 L610.5 738.8 L611.5 733.8 L612.5 739.6 L613.5 740.4 L614.5 737.8 L615.5 739.0 L616.5 737.4 L617.5 738.4 L618.5 738.6 L619.5 738.2 L620.5 740.9 L621.5 737.8 L622.5 739.4 L623.5 737.4 L624.5 738.1 L625.5 740.2 L626.5 739.2 L627.5 738.0 L628.5 740.2 L629.5 736.5 L630.5 739.4 L631.5 736.7 L632.5 734.0 L633.5 734.8 L634.5 736.7 L635.5 740.3 L636.5 738.4 L637.5 739.3 L638.5 740.6 L639.5 738.5 L640.5 741.3 L641.5 742.3 L642.5 741.0 L643.5 742.2 L644.5 739.6 L645.5 740.5 L646.5 738.4 L647.5 740.1 L648.5 739.2 L649.5 742.5 L650.5 732.7 L651.5 732.8 L652.5 730.3 L653.5 717.6 L654.5 725.3 L655.5 723.4 L656.5 727.5 L657.5 712.7 L658.5 717.4 L659.5 709.2 L660.5 712.7 L661.5 721.7 L662.5 712.4 L663.5 715.5 L664.5 701.1 L665.5 705.7 L666.5 718.1 L667.5 714.0 L668.5 718.0 L669.5 713.0 L670.5 700.0 L671.5 717.4 L672.5 717.6 L673.5 708.9 L674.5 727.9 L675.5 724.5 L676.5 721.8 L677.5 713.7 L678.5 706.0 L679.5 717.2 L680.5 716.6 L681.5 704.7 L682.5 704.5 L683.5 709.5 L684.5 690.2 L685.5 700.5 L686.5 710.4 L687.5 712.1 L688.5 714.2 L689.5 709.1 L690.5 712.6 L691.5 696.8 L692.5 706.0 L693.5 688.3 L694.5 687.3 L695.5 689.3 L696.5 682.0 L697.5 706.0 L698.5 708.8 L699.5 699.7 L700.5 700.8 L701.5 719.0 L702.5 716.1 L703.5 721.1 L704.5 729.9 L705.5 732.0 L706.5 727.9 L707.5 723.1 L708.5 732.8 L709.5 723.6 L710.5 726.7 L711.5 723.5 L712.5 727.9 L713.5 736.3 L714.5 726.0 L715.5 729.2 L716.5 723.4 L717.5 728.4 L718.5 734.7 L719.5 729.1 L720.5 738.0 L721.5 739.0 L722.5 737.0 L723.5 738.6 L724.5 739.2 L725.5 738.8 L726.5 739.4 L727.5 739.8 L728.5 741.3 L729.5 741.4 L730.5 739.4 L731.5 740.5 L732.5 742.0 L733.5 742.8 L734.5 742.9 L735.5 742.5 L736.5 743.1 L737.5 742.5 L738.5 743.4 L739.5 740.9 L740.5 740.6 L741.5 742.0 L742.5 741.6 L743.5 741.8 L744.5 742.1 L745.5 739.3 L746.5 741.7 L747.5 739.1 L748.5 741.0 L749.5 741.6 L750.5 741.1 L751.5 740.4 L752.5 741.2 L753.5 742.5 L754.5 740.3 L755.5 741.4 L756.5 742.7 L757.5 740.7 L758.5 743.1 L759.5 742.0 L760.5 741.8 L761.5 743.1 L762.5 742.1 L763.5 740.0 L764.5 741.0 L764.5 746.2 Z" fill="#000" stroke="#000" stroke-width="0.8" stroke-linejoin="miter"/>
<path d="M161.5 743.8 L162.0 745.8 L162.5 745.1 L163.0 745.8 L163.5 744.9 L164.0 745.8 L164.5 744.7 L165.0 745.8 L165.5 745.8 L166.0 745.8 L166.5 745.1 L167.0 745.8 L167.5 745.7 L168.0 745.8 L168.5 743.7 L169.0 745.8 L169.5 743.6 L170.0 746.2 L170.5 743.5 L171.0 745.9 L171.5 745.4 L172.0 745.8 L172.5 745.8 L173.0 745.8 L173.5 744.6 L174.0 745.8 L174.5 745.0 L175.0 746.1 L175.5 741.2 L176.0 745.8 L176.5 745.7 L177.0 745.8 L177.5 738.2 L178.0 745.6 L178.5 740.6 L179.0 745.6 L179.5 745.3 L180.0 745.8 L180.5 744.2 L181.0 745.8 L181.5 744.6 L182.0 746.0 L182.5 744.9 L183.0 745.7 L183.5 745.0 L184.0 745.7 L184.5 744.9 L185.0 745.7 L185.5 742.9 L186.0 745.8 L186.5 743.5 L187.0 746.1 L187.5 740.3 L188.0 745.7 L188.5 744.9 L189.0 745.7 L189.5 740.2 L190.0 746.0 L190.5 745.1 L191.0 745.8 L191.5 740.8 L192.0 746.0 L192.5 743.4 L193.0 745.8 L193.5 743.7 L194.0 745.8 L194.5 744.3 L195.0 745.8 L195.5 743.5 L196.0 745.8 L196.5 746.2 L197.0 745.8 L197.5 745.2 L198.0 745.8 L198.5 745.7 L199.0 745.8 L199.5 744.7 L200.0 745.8 L200.5 741.1 L201.0 746.0 L201.5 742.0 L202.0 745.9 L202.5 741.2 L203.0 745.8 L203.5 746.1 L204.0 745.8 L204.5 745.6 L205.0 745.9 L205.5 744.1 L206.0 746.0 L206.5 744.7 L207.0 745.8 L207.5 744.7 L208.0 745.8 L208.5 743.4 L209.0 745.8 L209.5 745.1 L210.0 745.9 L210.5 745.3 L211.0 745.8 L211.5 741.2 L212.0 745.4 L212.5 735.9 L213.0 745.0 L213.5 745.5 L214.0 744.6 L214.5 739.0 L215.0 744.2 L215.5 719.2 L216.0 743.0 L216.5 739.0 L217.0 743.2 L217.5 730.3 L218.0 740.8 L218.5 732.1 L219.0 739.6 L219.5 732.5 L220.0 740.7 L220.5 639.2 L221.0 740.7 L221.5 718.1 L222.0 739.5 L222.5 717.6 L223.0 742.4 L223.5 674.2 L224.0 740.7 L224.5 690.5 L225.0 740.4 L225.5 710.0 L226.0 740.1 L226.5 733.5 L227.0 739.8 L227.5 660.2 L228.0 739.5 L228.5 743.2 L229.0 739.1 L229.5 720.9 L230.0 742.3 L230.5 733.5 L231.0 738.2 L231.5 640.2 L232.0 745.1 L232.5 709.4 L233.0 739.2 L233.5 742.7 L234.0 739.6 L234.5 688.9 L235.0 743.3 L235.5 670.2 L236.0 741.1 L236.5 699.1 L237.0 744.6 L237.5 745.9 L238.0 744.2 L238.5 744.4 L239.0 743.1 L239.5 682.2 L240.0 741.6 L240.5 686.5 L241.0 741.3 L241.5 745.7 L242.0 741.2 L242.5 722.6 L243.0 741.1 L243.5 691.0 L244.0 741.0 L244.5 676.2 L245.0 740.9 L245.5 744.4 L246.0 740.9 L246.5 720.6 L247.0 741.3 L247.5 713.9 L248.0 740.8 L248.5 674.2 L249.0 740.7 L249.5 740.7 L250.0 741.5 L250.5 706.2 L251.0 740.5 L251.5 711.2 L252.0 740.3 L252.5 723.2 L253.0 740.2 L253.5 665.2 L254.0 743.1 L254.5 728.8 L255.0 745.4 L255.5 712.9 L256.0 741.3 L256.5 736.9 L257.0 746.0 L257.5 689.2 L258.0 746.1 L258.5 739.9 L259.0 741.9 L259.5 727.2 L260.0 741.9 L260.5 716.4 L261.0 741.9 L261.5 689.2 L262.0 744.5 L262.5 733.3 L263.0 742.9 L263.5 719.1 L264.0 742.5 L264.5 699.2 L265.0 742.4 L265.5 714.6 L266.0 741.6 L266.5 727.7 L267.0 741.1 L267.5 710.7 L268.0 740.0 L268.5 657.7 L269.0 739.6 L269.5 696.0 L270.0 739.8 L270.5 667.9 L271.0 739.9 L271.5 731.6 L272.0 740.0 L272.5 702.4 L273.0 740.4 L273.5 666.2 L274.0 740.3 L274.5 675.4 L275.0 740.5 L275.5 715.1 L276.0 740.8 L276.5 681.1 L277.0 741.0 L277.5 677.6 L278.0 743.2 L278.5 731.2 L279.0 744.4 L279.5 704.2 L280.0 745.7 L280.5 720.4 L281.0 743.0 L281.5 741.9 L282.0 743.0 L282.5 702.6 L283.0 743.0 L283.5 725.7 L284.0 745.6 L284.5 743.7 L285.0 743.5 L285.5 711.2 L286.0 743.9 L286.5 721.3 L287.0 744.4 L287.5 728.2 L288.0 744.9 L288.5 737.8 L289.0 745.7 L289.5 736.4 L290.0 745.5 L290.5 721.0 L291.0 746.0 L291.5 735.9 L292.0 743.7 L292.5 712.5 L293.0 744.4 L293.5 739.3 L294.0 744.4 L294.5 745.8 L295.0 744.7 L295.5 731.2 L296.0 745.1 L296.5 742.5 L297.0 746.1 L297.5 738.2 L298.0 745.4 L298.5 739.3 L299.0 745.2 L299.5 742.1 L300.0 745.2 L300.5 743.5 L301.0 745.2 L301.5 744.9 L302.0 745.2 L302.5 738.8 L303.0 745.2 L303.5 745.3 L304.0 745.2 L304.5 733.7 L305.0 745.7 L305.5 745.2 L306.0 746.2 L306.5 741.6 L307.0 745.2 L307.5 732.2 L308.0 745.2 L308.5 735.3 L309.0 744.8 L309.5 744.0 L310.0 744.5 L310.5 738.6 L311.0 744.2 L311.5 724.1 L312.0 743.8 L312.5 714.2 L313.0 744.0 L313.5 742.3 L314.0 744.2 L314.5 740.0 L315.0 744.6 L315.5 741.7 L316.0 744.6 L316.5 739.6 L317.0 744.9 L317.5 727.5 L318.0 745.0 L318.5 736.7 L319.0 745.2 L319.5 734.2 L320.0 745.3 L320.5 745.3 L321.0 745.7 L321.5 745.4 L322.0 744.6 L322.5 738.9 L323.0 744.2 L323.5 738.9 L324.0 745.2 L324.5 723.6 L325.0 744.3 L325.5 709.2 L326.0 742.1 L326.5 687.3 L327.0 740.7 L327.5 734.1 L328.0 743.9 L328.5 712.6 L329.0 738.0 L329.5 628.2 L330.0 738.0 L330.5 722.1 L331.0 739.4 L331.5 728.7 L332.0 744.5 L332.5 680.2 L333.0 741.5 L333.5 732.9 L334.0 741.3 L334.5 686.2 L335.0 741.3 L335.5 681.2 L336.0 741.9 L336.5 727.9 L337.0 739.8 L337.5 651.2 L338.0 739.1 L338.5 739.1 L339.0 739.3 L339.5 663.1 L340.0 739.5 L340.5 713.1 L341.0 739.8 L341.5 661.2 L342.0 740.0 L342.5 670.5 L343.0 740.1 L343.5 713.1 L344.0 740.3 L344.5 736.8 L345.0 740.5 L345.5 669.2 L346.0 744.9 L346.5 696.4 L347.0 740.2 L347.5 726.2 L348.0 740.1 L348.5 727.7 L349.0 739.9 L349.5 661.2 L350.0 743.7 L350.5 727.5 L351.0 740.5 L351.5 726.6 L352.0 741.2 L352.5 705.3 L353.0 742.0 L353.5 695.2 L354.0 742.4 L354.5 732.7 L355.0 742.5 L355.5 745.0 L356.0 742.6 L356.5 726.5 L357.0 745.5 L357.5 699.2 L358.0 745.4 L358.5 742.4 L359.0 743.9 L359.5 744.9 L360.0 741.9 L360.5 691.7 L361.0 741.6 L361.5 682.6 L362.0 742.3 L362.5 717.1 L363.0 742.2 L363.5 713.8 L364.0 742.7 L364.5 706.2 L365.0 744.5 L365.5 713.8 L366.0 743.1 L366.5 732.6 L367.0 743.0 L367.5 745.6 L368.0 743.6 L368.5 702.6 L369.0 742.4 L369.5 735.4 L370.0 741.1 L370.5 741.1 L371.0 739.9 L371.5 660.2 L372.0 740.0 L372.5 740.0 L373.0 740.4 L373.5 671.2 L374.0 740.3 L374.5 686.0 L375.0 744.6 L375.5 647.7 L376.0 742.3 L376.5 710.4 L377.0 743.0 L377.5 730.7 L378.0 742.5 L378.5 666.2 L379.0 745.0 L379.5 745.4 L380.0 741.1 L380.5 689.0 L381.0 745.0 L381.5 740.7 L382.0 744.0 L382.5 696.2 L383.0 742.3 L383.5 721.8 L384.0 744.1 L384.5 738.2 L385.0 744.0 L385.5 693.4 L386.0 741.8 L386.5 686.2 L387.0 741.9 L387.5 737.0 L388.0 742.4 L388.5 712.1 L389.0 745.8 L389.5 706.2 L390.0 743.3 L390.5 732.9 L391.0 745.7 L391.5 735.6 L392.0 743.8 L392.5 717.5 L393.0 745.5 L393.5 740.0 L394.0 744.6 L394.5 741.1 L395.0 745.2 L395.5 736.2 L396.0 745.5 L396.5 743.6 L397.0 745.4 L397.5 744.5 L398.0 745.3 L398.5 741.3 L399.0 745.2 L399.5 732.2 L400.0 745.2 L400.5 742.6 L401.0 744.8 L401.5 736.5 L402.0 744.5 L402.5 724.4 L403.0 744.2 L403.5 717.5 L404.0 744.2 L404.5 729.7 L405.0 746.0 L405.5 735.3 L406.0 744.7 L406.5 733.6 L407.0 744.8 L407.5 728.7 L408.0 745.2 L408.5 735.0 L409.0 745.0 L409.5 732.6 L410.0 745.7 L410.5 743.7 L411.0 745.6 L411.5 743.1 L412.0 745.9 L412.5 731.2 L413.0 745.7 L413.5 745.5 L414.0 745.6 L414.5 742.6 L415.0 745.0 L415.5 744.8 L416.0 745.0 L416.5 731.9 L417.0 745.6 L417.5 743.0 L418.0 745.0 L418.5 741.8 L419.0 745.0 L419.5 730.2 L420.0 745.0 L420.5 741.4 L421.0 745.0 L421.5 738.6 L422.0 745.0 L422.5 740.3 L423.0 745.0 L423.5 744.6 L424.0 745.8 L424.5 733.9 L425.0 745.6 L425.5 733.9 L426.0 745.1 L426.5 739.7 L427.0 745.1 L427.5 731.2 L428.0 746.2 L428.5 727.0 L429.0 744.5 L429.5 722.9 L430.0 744.1 L430.5 735.9 L431.0 743.8 L431.5 714.2 L432.0 743.6 L432.5 742.1 L433.0 743.4 L433.5 745.1 L434.0 745.2 L434.5 722.5 L435.0 743.0 L435.5 719.5 L436.0 742.8 L436.5 737.1 L437.0 742.6 L437.5 697.6 L438.0 741.1 L438.5 672.1 L439.0 739.2 L439.5 636.2 L440.0 737.8 L440.5 668.0 L441.0 740.5 L441.5 712.0 L442.0 736.8 L442.5 619.2 L443.0 736.3 L443.5 736.1 L444.0 735.9 L444.5 608.2 L445.0 746.2 L445.5 661.2 L446.0 744.3 L446.5 710.3 L447.0 740.2 L447.5 741.0 L448.0 742.9 L448.5 674.2 L449.0 740.9 L449.5 736.1 L450.0 741.1 L450.5 681.2 L451.0 743.9 L451.5 726.8 L452.0 741.4 L452.5 722.6 L453.0 741.5 L453.5 740.4 L454.0 741.6 L454.5 685.2 L455.0 741.7 L455.5 739.2 L456.0 741.9 L456.5 734.8 L457.0 744.5 L457.5 691.2 L458.0 742.3 L458.5 699.6 L459.0 744.7 L459.5 738.2 L460.0 742.7 L460.5 702.6 L461.0 743.1 L461.5 741.7 L462.0 742.5 L462.5 707.2 L463.0 742.6 L463.5 743.1 L464.0 741.6 L464.5 745.4 L465.0 741.2 L465.5 716.9 L466.0 740.8 L466.5 670.2 L467.0 740.7 L467.5 681.5 L468.0 741.2 L468.5 723.5 L469.0 741.6 L469.5 689.2 L470.0 741.9 L470.5 715.0 L471.0 741.7 L471.5 741.6 L472.0 741.5 L472.5 728.8 L473.0 741.3 L473.5 680.2 L474.0 741.5 L474.5 738.9 L475.0 741.8 L475.5 725.8 L476.0 742.1 L476.5 710.2 L477.0 742.8 L477.5 696.2 L478.0 742.4 L478.5 707.1 L479.0 745.8 L479.5 741.6 L480.0 746.1 L480.5 694.2 L481.0 743.0 L481.5 720.2 L482.0 744.3 L482.5 720.3 L483.0 742.4 L483.5 744.7 L484.0 742.4 L484.5 696.2 L485.0 743.1 L485.5 710.6 L486.0 742.5 L486.5 737.6 L487.0 742.5 L487.5 697.6 L488.0 742.2 L488.5 735.3 L489.0 741.5 L489.5 734.6 L490.0 740.7 L490.5 664.2 L491.0 740.1 L491.5 694.2 L492.0 741.2 L492.5 717.9 L493.0 743.5 L493.5 672.6 L494.0 741.0 L494.5 733.6 L495.0 742.8 L495.5 719.2 L496.0 744.2 L496.5 732.6 L497.0 744.0 L497.5 739.9 L498.0 744.5 L498.5 717.4 L499.0 743.8 L499.5 743.6 L500.0 743.7 L500.5 714.7 L501.0 743.6 L501.5 710.2 L502.0 744.1 L502.5 722.3 L503.0 745.5 L503.5 731.4 L504.0 745.9 L504.5 731.2 L505.0 745.0 L505.5 745.2 L506.0 745.4 L506.5 729.9 L507.0 744.8 L507.5 732.0 L508.0 744.7 L508.5 738.3 L509.0 745.0 L509.5 728.6 L510.0 745.0 L510.5 742.7 L511.0 744.4 L511.5 721.2 L512.0 744.8 L512.5 740.3 L513.0 744.5 L513.5 742.1 L514.0 744.8 L514.5 742.1 L515.0 744.8 L515.5 736.3 L516.0 745.0 L516.5 744.5 L517.0 745.2 L517.5 732.5 L518.0 745.2 L518.5 732.5 L519.0 745.8 L519.5 743.9 L520.0 745.2 L520.5 746.0 L521.0 745.3 L521.5 745.3 L522.0 746.0 L522.5 745.0 L523.0 745.4 L523.5 744.0 L524.0 745.4 L524.5 744.1 L525.0 745.5 L525.5 736.2 L526.0 745.5 L526.5 740.6 L527.0 745.5 L527.5 744.4 L528.0 745.9 L528.5 745.3 L529.0 745.5 L529.5 745.3 L530.0 746.1 L530.5 737.0 L531.0 745.5 L531.5 745.2 L532.0 745.5 L532.5 743.4 L533.0 745.5 L533.5 740.7 L534.0 745.5 L534.5 742.4 L535.0 746.1 L535.5 741.8 L536.0 745.5 L536.5 743.5 L537.0 745.5 L537.5 736.2 L538.0 745.1 L538.5 742.1 L539.0 744.9 L539.5 744.2 L540.0 744.7 L540.5 740.3 L541.0 744.2 L541.5 719.2 L542.0 744.0 L542.5 717.4 L543.0 743.7 L543.5 729.7 L544.0 743.5 L544.5 707.6 L545.0 744.6 L545.5 714.5 L546.0 741.9 L546.5 684.8 L547.0 744.8 L547.5 716.9 L548.0 739.2 L548.5 651.4 L549.0 739.6 L549.5 693.5 L550.0 743.1 L550.5 671.2 L551.0 744.9 L551.5 672.2 L552.0 741.4 L552.5 701.5 L553.0 739.5 L553.5 656.2 L554.0 742.1 L554.5 728.7 L555.0 739.5 L555.5 657.7 L556.0 739.6 L556.5 739.0 L557.0 739.7 L557.5 661.2 L558.0 745.7 L558.5 666.2 L559.0 739.6 L559.5 738.2 L560.0 739.3 L560.5 689.3 L561.0 739.1 L561.5 720.7 L562.0 738.8 L562.5 645.2 L563.0 738.5 L563.5 701.1 L564.0 740.9 L564.5 668.6 L565.0 737.4 L565.5 626.5 L566.0 738.5 L566.5 704.7 L567.0 745.1 L567.5 685.2 L568.0 741.5 L568.5 740.9 L569.0 740.8 L569.5 698.8 L570.0 741.6 L570.5 737.1 L571.0 739.5 L571.5 656.2 L572.0 740.0 L572.5 676.0 L573.0 740.5 L573.5 675.2 L574.0 741.0 L574.5 738.9 L575.0 745.4 L575.5 745.8 L576.0 741.8 L576.5 713.2 L577.0 742.2 L577.5 694.2 L578.0 742.0 L578.5 693.9 L579.0 745.9 L579.5 727.9 L580.0 741.2 L580.5 697.7 L581.0 745.4 L581.5 674.2 L582.0 741.6 L582.5 729.3 L583.0 744.9 L583.5 699.2 L584.0 742.3 L584.5 739.8 L585.0 741.7 L585.5 713.5 L586.0 741.0 L586.5 672.6 L587.0 740.9 L587.5 734.5 L588.0 741.4 L588.5 730.9 L589.0 744.3 L589.5 694.2 L590.0 742.3 L590.5 736.0 L591.0 743.8 L591.5 731.9 L592.0 743.8 L592.5 699.7 L593.0 742.4 L593.5 696.2 L594.0 742.1 L594.5 717.9 L595.0 741.4 L595.5 729.3 L596.0 744.4 L596.5 680.9 L597.0 744.8 L597.5 659.2 L598.0 740.6 L598.5 732.9 L599.0 742.0 L599.5 704.2 L600.0 743.0 L600.5 722.1 L601.0 744.7 L601.5 735.9 L602.0 743.8 L602.5 695.2 L603.0 742.5 L603.5 730.8 L604.0 742.8 L604.5 746.1 L605.0 743.1 L605.5 709.2 L606.0 743.4 L606.5 731.1 L607.0 745.2 L607.5 740.4 L608.0 743.5 L608.5 711.2 L609.0 746.0 L609.5 742.5 L610.0 744.2 L610.5 739.8 L611.0 744.6 L611.5 725.2 L612.0 744.7 L612.5 735.6 L613.0 744.8 L613.5 728.7 L614.0 744.9 L614.5 736.0 L615.0 744.9 L615.5 734.1 L616.0 745.0 L616.5 743.2 L617.0 746.0 L617.5 731.3 L618.0 745.0 L618.5 738.6 L619.0 745.0 L619.5 736.2 L620.0 745.1 L620.5 734.9 L621.0 745.1 L621.5 731.2 L622.0 745.9 L622.5 731.5 L623.0 745.0 L623.5 735.2 L624.0 744.9 L624.5 734.4 L625.0 744.9 L625.5 738.0 L626.0 744.8 L626.5 732.7 L627.0 744.8 L627.5 735.6 L628.0 745.1 L628.5 732.9 L629.0 744.7 L629.5 737.7 L630.0 744.6 L630.5 725.2 L631.0 744.7 L631.5 746.2 L632.0 744.7 L632.5 735.4 L633.0 745.3 L633.5 746.1 L634.0 744.8 L634.5 740.8 L635.0 744.8 L635.5 744.2 L636.0 746.1 L636.5 745.1 L637.0 744.9 L637.5 728.7 L638.0 745.0 L638.5 739.0 L639.0 745.3 L639.5 744.2 L640.0 745.3 L640.5 744.6 L641.0 746.1 L641.5 740.3 L642.0 745.5 L642.5 737.2 L643.0 745.4 L643.5 738.7 L644.0 745.3 L644.5 743.3 L645.0 745.2 L645.5 744.7 L646.0 745.1 L646.5 730.2 L647.0 745.1 L647.5 746.0 L648.0 745.3 L648.5 744.9 L649.0 745.4 L649.5 736.2 L650.0 745.5 L650.5 732.5 L651.0 745.3 L651.5 719.4 L652.0 743.0 L652.5 702.6 L653.0 744.5 L653.5 705.6 L654.0 742.9 L654.5 742.4 L655.0 742.8 L655.5 701.2 L656.0 742.8 L656.5 745.6 L657.0 742.4 L657.5 734.3 L658.0 743.1 L658.5 738.5 L659.0 741.7 L659.5 682.6 L660.0 741.5 L660.5 737.4 L661.0 741.6 L661.5 740.1 L662.0 745.9 L662.5 687.6 L663.0 741.7 L663.5 732.3 L664.0 740.4 L664.5 662.7 L665.0 740.1 L665.5 689.2 L666.0 740.4 L666.5 711.2 L667.0 740.7 L667.5 676.2 L668.0 745.3 L668.5 714.4 L669.0 743.1 L669.5 699.5 L670.0 744.9 L670.5 712.1 L671.0 740.2 L671.5 662.7 L672.0 741.6 L672.5 715.4 L673.0 740.8 L673.5 716.4 L674.0 741.8 L674.5 694.2 L675.0 742.2 L675.5 715.4 L676.0 741.9 L676.5 722.3 L677.0 744.9 L677.5 723.4 L678.0 742.7 L678.5 680.2 L679.0 745.1 L679.5 709.2 L680.0 741.5 L680.5 685.2 L681.0 745.3 L681.5 742.9 L682.0 742.6 L682.5 714.4 L683.0 744.9 L683.5 723.8 L684.0 741.2 L684.5 736.0 L685.0 738.2 L685.5 631.5 L686.0 737.8 L686.5 679.0 L687.0 739.0 L687.5 735.9 L688.0 740.2 L688.5 671.2 L689.0 740.3 L689.5 717.1 L690.0 742.3 L690.5 728.9 L691.0 741.7 L691.5 654.2 L692.0 739.3 L692.5 706.1 L693.0 739.1 L693.5 724.5 L694.0 738.9 L694.5 711.7 L695.0 738.7 L695.5 644.2 L696.0 740.0 L696.5 714.1 L697.0 743.4 L697.5 648.1 L698.0 738.1 L698.5 645.6 L699.0 737.9 L699.5 634.2 L700.0 738.5 L700.5 721.0 L701.0 745.8 L701.5 733.4 L702.0 741.8 L702.5 689.2 L703.0 742.2 L703.5 699.3 L704.0 742.6 L704.5 737.8 L705.0 743.1 L705.5 707.6 L706.0 743.5 L706.5 737.1 L707.0 743.2 L707.5 724.5 L708.0 743.2 L708.5 731.5 L709.0 744.1 L709.5 729.6 L710.0 743.1 L710.5 704.2 L711.0 744.4 L711.5 744.7 L712.0 743.5 L712.5 738.0 L713.0 745.4 L713.5 716.2 L714.0 743.8 L714.5 728.3 L715.0 743.8 L715.5 740.2 L716.0 743.4 L716.5 743.2 L717.0 743.2 L717.5 704.2 L718.0 743.2 L718.5 741.8 L719.0 743.9 L719.5 742.7 L720.0 744.4 L720.5 724.2 L721.0 744.7 L721.5 729.2 L722.0 745.2 L722.5 739.0 L723.0 745.2 L723.5 733.7 L724.0 745.5 L724.5 745.2 L725.0 745.5 L725.5 744.1 L726.0 746.0 L726.5 738.0 L727.0 745.2 L727.5 732.5 L728.0 745.2 L728.5 734.0 L729.0 746.1 L729.5 743.9 L730.0 745.6 L730.5 737.6 L731.0 745.9 L731.5 738.5 L732.0 745.9 L732.5 736.2 L733.0 746.0 L733.5 745.0 L734.0 745.5 L734.5 743.2 L735.0 745.5 L735.5 741.4 L736.0 745.8 L736.5 745.7 L737.0 745.5 L737.5 746.1 L738.0 745.5 L738.5 742.1 L739.0 745.5 L739.5 737.5 L740.0 746.0 L740.5 739.8 L741.0 746.1 L741.5 739.8 L742.0 745.9 L742.5 741.3 L743.0 745.4 L743.5 737.6 L744.0 745.8 L744.5 740.2 L745.0 745.3 L745.5 733.7 L746.0 745.3 L746.5 737.5 L747.0 746.0 L747.5 735.3 L748.0 746.1 L748.5 735.6 L749.0 745.3 L749.5 739.8 L750.0 745.5 L750.5 736.6 L751.0 745.4 L751.5 740.3 L752.0 745.6 L752.5 740.8 L753.0 745.4 L753.5 736.2 L754.0 745.4 L754.5 737.3 L755.0 745.4 L755.5 745.7 L756.0 745.9 L756.5 736.9 L757.0 745.4 L757.5 742.4 L758.0 745.6 L758.5 736.8 L759.0 745.7 L759.5 739.9 L760.0 745.4 L760.5 744.6 L761.0 746.1 L761.5 743.8 L762.0 745.4 L762.5 745.2 L763.0 745.4 L763.5 742.1 L764.0 745.9 L764.5 736.6" fill="none" stroke="#000000" stroke-width="1.5" stroke-linejoin="round" stroke-linecap="butt"/>
<line x1="212.2" y1="747.2" x2="212.2" y2="560.4" stroke="#ff0000" stroke-width="2.0" stroke-dasharray="21.5 8.6 4.3 8.6" stroke-dashoffset="0"/>
<line x1="321.2" y1="747.2" x2="321.2" y2="560.4" stroke="#ff0000" stroke-width="2.0" stroke-dasharray="21.5 8.6 4.3 8.6" stroke-dashoffset="0"/>
<line x1="429.6" y1="747.2" x2="429.6" y2="560.4" stroke="#ff0000" stroke-width="2.0" stroke-dasharray="21.5 8.6 4.3 8.6" stroke-dashoffset="0"/>
<line x1="538.7" y1="747.2" x2="538.7" y2="560.4" stroke="#ff0000" stroke-width="2.0" stroke-dasharray="21.5 8.6 4.3 8.6" stroke-dashoffset="0"/>
<line x1="650.2" y1="747.2" x2="650.2" y2="560.4" stroke="#ff0000" stroke-width="2.0" stroke-dasharray="21.5 8.6 4.3 8.6" stroke-dashoffset="0"/>
<line x1="228.0" y1="747.2" x2="228.0" y2="560.4" stroke="#ff0000" stroke-width="2.0" stroke-dasharray="0 30.1 4.3 8.6" stroke-dashoffset="0"/>
<line x1="338.6" y1="747.2" x2="338.6" y2="560.4" stroke="#ff0000" stroke-width="2.0" stroke-dasharray="0 30.1 4.3 8.6" stroke-dashoffset="0"/>
<line x1="445.8" y1="747.2" x2="445.8" y2="560.4" stroke="#ff0000" stroke-width="2.0" stroke-dasharray="0 30.1 4.3 8.6" stroke-dashoffset="0"/>
<line x1="556.6" y1="747.2" x2="556.6" y2="560.4" stroke="#ff0000" stroke-width="2.0" stroke-dasharray="0 30.1 4.3 8.6" stroke-dashoffset="0"/>
<line x1="667.6" y1="747.2" x2="667.6" y2="560.4" stroke="#ff0000" stroke-width="2.0" stroke-dasharray="0 30.1 4.3 8.6" stroke-dashoffset="0"/>
<line x1="228.0" y1="747.2" x2="228.0" y2="560.4" stroke="#00ff00" stroke-width="2.0" stroke-dasharray="27 16" stroke-dashoffset="0"/>
<line x1="338.6" y1="747.2" x2="338.6" y2="560.4" stroke="#00ff00" stroke-width="2.0" stroke-dasharray="27 16" stroke-dashoffset="0"/>
<line x1="445.8" y1="747.2" x2="445.8" y2="560.4" stroke="#00ff00" stroke-width="2.0" stroke-dasharray="27 16" stroke-dashoffset="0"/>
<line x1="556.6" y1="747.2" x2="556.6" y2="560.4" stroke="#00ff00" stroke-width="2.0" stroke-dasharray="27 16" stroke-dashoffset="0"/>
<line x1="667.6" y1="747.2" x2="667.6" y2="560.4" stroke="#00ff00" stroke-width="2.0" stroke-dasharray="27 16" stroke-dashoffset="0"/>
<line x1="267.4" y1="747.2" x2="267.4" y2="560.4" stroke="#00ff00" stroke-width="2.0" stroke-dasharray="27 16" stroke-dashoffset="0"/>
<line x1="374.2" y1="747.2" x2="374.2" y2="560.4" stroke="#00ff00" stroke-width="2.0" stroke-dasharray="27 16" stroke-dashoffset="0"/>
<line x1="481.8" y1="747.2" x2="481.8" y2="560.4" stroke="#00ff00" stroke-width="2.0" stroke-dasharray="27 16" stroke-dashoffset="0"/>
<line x1="594.5" y1="747.2" x2="594.5" y2="560.4" stroke="#00ff00" stroke-width="2.0" stroke-dasharray="27 16" stroke-dashoffset="0"/>
<line x1="699.3" y1="747.2" x2="699.3" y2="560.4" stroke="#00ff00" stroke-width="2.0" stroke-dasharray="27 16" stroke-dashoffset="0"/>
<line x1="267.79999999999995" y1="747.2" x2="267.79999999999995" y2="560.4" stroke="#0000ff" stroke-width="2.0" stroke-dasharray="2.9 7.85" stroke-dashoffset="0"/>
<line x1="374.59999999999997" y1="747.2" x2="374.59999999999997" y2="560.4" stroke="#0000ff" stroke-width="2.0" stroke-dasharray="2.9 7.85" stroke-dashoffset="0"/>
<line x1="482.2" y1="747.2" x2="482.2" y2="560.4" stroke="#0000ff" stroke-width="2.0" stroke-dasharray="2.9 7.85" stroke-dashoffset="0"/>
<line x1="594.9" y1="747.2" x2="594.9" y2="560.4" stroke="#0000ff" stroke-width="2.0" stroke-dasharray="2.9 7.85" stroke-dashoffset="0"/>
<line x1="699.6999999999999" y1="747.2" x2="699.6999999999999" y2="560.4" stroke="#0000ff" stroke-width="2.0" stroke-dasharray="2.9 7.85" stroke-dashoffset="0"/>
<line x1="286.4" y1="747.2" x2="286.4" y2="560.4" stroke="#0000ff" stroke-width="2.0" stroke-dasharray="2.9 7.85" stroke-dashoffset="0"/>
<line x1="392.7" y1="747.2" x2="392.7" y2="560.4" stroke="#0000ff" stroke-width="2.0" stroke-dasharray="2.9 7.85" stroke-dashoffset="0"/>
<line x1="499.4" y1="747.2" x2="499.4" y2="560.4" stroke="#0000ff" stroke-width="2.0" stroke-dasharray="2.9 7.85" stroke-dashoffset="0"/>
<line x1="614.1" y1="747.2" x2="614.1" y2="560.4" stroke="#0000ff" stroke-width="2.0" stroke-dasharray="2.9 7.85" stroke-dashoffset="0"/>
<line x1="719.9" y1="747.2" x2="719.9" y2="560.4" stroke="#0000ff" stroke-width="2.0" stroke-dasharray="2.9 7.85" stroke-dashoffset="0"/>
<line x1="160.50" y1="747.2" x2="160.50" y2="739.2" stroke="#262626" stroke-width="2.0"/>
<line x1="160.50" y1="560.4" x2="160.50" y2="568.4" stroke="#262626" stroke-width="2.0"/>
<line x1="270.67" y1="747.2" x2="270.67" y2="739.2" stroke="#262626" stroke-width="2.0"/>
<line x1="270.67" y1="560.4" x2="270.67" y2="568.4" stroke="#262626" stroke-width="2.0"/>
<line x1="380.83" y1="747.2" x2="380.83" y2="739.2" stroke="#262626" stroke-width="2.0"/>
<line x1="380.83" y1="560.4" x2="380.83" y2="568.4" stroke="#262626" stroke-width="2.0"/>
<line x1="491.00" y1="747.2" x2="491.00" y2="739.2" stroke="#262626" stroke-width="2.0"/>
<line x1="491.00" y1="560.4" x2="491.00" y2="568.4" stroke="#262626" stroke-width="2.0"/>
<line x1="601.17" y1="747.2" x2="601.17" y2="739.2" stroke="#262626" stroke-width="2.0"/>
<line x1="601.17" y1="560.4" x2="601.17" y2="568.4" stroke="#262626" stroke-width="2.0"/>
<line x1="711.33" y1="747.2" x2="711.33" y2="739.2" stroke="#262626" stroke-width="2.0"/>
<line x1="711.33" y1="560.4" x2="711.33" y2="568.4" stroke="#262626" stroke-width="2.0"/>
<line x1="821.50" y1="747.2" x2="821.50" y2="739.2" stroke="#262626" stroke-width="2.0"/>
<line x1="821.50" y1="560.4" x2="821.50" y2="568.4" stroke="#262626" stroke-width="2.0"/>
<line x1="160.5" y1="700.50" x2="168.5" y2="700.50" stroke="#262626" stroke-width="2.0"/>
<line x1="821.5" y1="700.50" x2="813.5" y2="700.50" stroke="#262626" stroke-width="2.0"/>
<line x1="160.5" y1="653.80" x2="168.5" y2="653.80" stroke="#262626" stroke-width="2.0"/>
<line x1="821.5" y1="653.80" x2="813.5" y2="653.80" stroke="#262626" stroke-width="2.0"/>
<line x1="160.5" y1="607.10" x2="168.5" y2="607.10" stroke="#262626" stroke-width="2.0"/>
<line x1="821.5" y1="607.10" x2="813.5" y2="607.10" stroke="#262626" stroke-width="2.0"/>
<rect x="160.5" y="560.4" width="661.0" height="186.80000000000007" fill="none" stroke="#262626" stroke-width="2.0"/>
<text transform="translate(487.60,34.00) scale(1.0,1)" font-size="48.0" text-anchor="middle" fill="#000" font-family="'Liberation Serif', 'Times New Roman', serif" >Accelerometer</text>
<text transform="translate(485.60,288.90) scale(0.994,1)" font-size="48.0" text-anchor="middle" fill="#000" font-family="'Liberation Serif', 'Times New Roman', serif" >Mechanomyography</text>
<text transform="translate(486.30,541.10) scale(0.994,1)" font-size="48.0" text-anchor="middle" fill="#000" font-family="'Liberation Serif', 'Times New Roman', serif" >Electromyography</text>
<text transform="translate(143.10,68.60) scale(0.97,1)" font-size="43.6" text-anchor="end" fill="#262626" font-family="'Liberation Serif', 'Times New Roman', serif" >1.5</text>
<text transform="translate(143.10,115.35) scale(0.97,1)" font-size="43.6" text-anchor="end" fill="#262626" font-family="'Liberation Serif', 'Times New Roman', serif" >0.75</text>
<text transform="translate(143.10,162.10) scale(0.97,1)" font-size="43.6" text-anchor="end" fill="#262626" font-family="'Liberation Serif', 'Times New Roman', serif" >0</text>
<text transform="translate(143.10,208.85) scale(0.97,1)" font-size="43.6" text-anchor="end" fill="#262626" font-family="'Liberation Serif', 'Times New Roman', serif" >-0.75</text>
<text transform="translate(143.10,255.60) scale(0.97,1)" font-size="43.6" text-anchor="end" fill="#262626" font-family="'Liberation Serif', 'Times New Roman', serif" >-1.5</text>
<text transform="translate(143.10,510.40) scale(0.97,1)" font-size="43.6" text-anchor="end" fill="#262626" font-family="'Liberation Serif', 'Times New Roman', serif" >0</text>
<text transform="translate(143.10,463.80) scale(0.97,1)" font-size="43.6" text-anchor="end" fill="#262626" font-family="'Liberation Serif', 'Times New Roman', serif" >0.5</text>
<text transform="translate(143.10,417.20) scale(0.97,1)" font-size="43.6" text-anchor="end" fill="#262626" font-family="'Liberation Serif', 'Times New Roman', serif" >1</text>
<text transform="translate(143.10,370.60) scale(0.97,1)" font-size="43.6" text-anchor="end" fill="#262626" font-family="'Liberation Serif', 'Times New Roman', serif" >1.5</text>
<text transform="translate(143.10,324.00) scale(0.97,1)" font-size="43.6" text-anchor="end" fill="#262626" font-family="'Liberation Serif', 'Times New Roman', serif" >2</text>
<text transform="translate(143.10,762.80) scale(0.97,1)" font-size="43.6" text-anchor="end" fill="#262626" font-family="'Liberation Serif', 'Times New Roman', serif" >0</text>
<text transform="translate(143.10,716.10) scale(0.97,1)" font-size="43.6" text-anchor="end" fill="#262626" font-family="'Liberation Serif', 'Times New Roman', serif" >0.5</text>
<text transform="translate(143.10,669.40) scale(0.97,1)" font-size="43.6" text-anchor="end" fill="#262626" font-family="'Liberation Serif', 'Times New Roman', serif" >1</text>
<text transform="translate(143.10,622.70) scale(0.97,1)" font-size="43.6" text-anchor="end" fill="#262626" font-family="'Liberation Serif', 'Times New Roman', serif" >1.5</text>
<text transform="translate(143.10,576.00) scale(0.97,1)" font-size="43.6" text-anchor="end" fill="#262626" font-family="'Liberation Serif', 'Times New Roman', serif" >2</text>
<text transform="translate(160.20,804.80) scale(0.985,1)" font-size="43.6" text-anchor="middle" fill="#262626" font-family="'Liberation Serif', 'Times New Roman', serif" >0</text>
<text transform="translate(270.37,804.80) scale(0.985,1)" font-size="43.6" text-anchor="middle" fill="#262626" font-family="'Liberation Serif', 'Times New Roman', serif" >10</text>
<text transform="translate(380.53,804.80) scale(0.985,1)" font-size="43.6" text-anchor="middle" fill="#262626" font-family="'Liberation Serif', 'Times New Roman', serif" >20</text>
<text transform="translate(490.70,804.80) scale(0.985,1)" font-size="43.6" text-anchor="middle" fill="#262626" font-family="'Liberation Serif', 'Times New Roman', serif" >30</text>
<text transform="translate(600.87,804.80) scale(0.985,1)" font-size="43.6" text-anchor="middle" fill="#262626" font-family="'Liberation Serif', 'Times New Roman', serif" >40</text>
<text transform="translate(711.03,804.80) scale(0.985,1)" font-size="43.6" text-anchor="middle" fill="#262626" font-family="'Liberation Serif', 'Times New Roman', serif" >50</text>
<text transform="translate(821.20,804.80) scale(0.985,1)" font-size="43.6" text-anchor="middle" fill="#262626" font-family="'Liberation Serif', 'Times New Roman', serif" >60</text>
<text transform="translate(488.10,856.20) scale(1.0,1)" font-size="48.0" text-anchor="middle" fill="#262626" font-family="'Liberation Serif', 'Times New Roman', serif" >Time (s)</text>
<text transform="translate(31.5,147.7) rotate(-90)" font-size="48.0" text-anchor="middle" fill="#262626" font-family="'Liberation Serif', 'Times New Roman', serif">g</text>
<text transform="translate(34,404.5) rotate(-90)" font-size="48.0" text-anchor="middle" fill="#262626" font-family="'Liberation Serif', 'Times New Roman', serif">Volts (V)</text>
<text transform="translate(34,656.3) rotate(-90)" font-size="48.0" text-anchor="middle" fill="#262626" font-family="'Liberation Serif', 'Times New Roman', serif">Volts (V)</text>
<rect x="322.8" y="58.8" width="491.2" height="61.7" fill="#ffffff" stroke="#262626" stroke-width="2.0"/>
<line x1="333.8" y1="89.2" x2="441.9" y2="89.2" stroke="#ff0000" stroke-width="2.0"/>
<line x1="495.9" y1="89.2" x2="604" y2="89.2" stroke="#00ff00" stroke-width="2.0"/>
<line x1="658.6" y1="89.2" x2="766.7" y2="89.2" stroke="#0000ff" stroke-width="2.0"/>
<text transform="translate(449.40,104.30) scale(1.0,1)" font-size="43.6" text-anchor="start" fill="#000" font-family="'Liberation Serif', 'Times New Roman', serif" >X</text>
<text transform="translate(612.10,104.30) scale(1.0,1)" font-size="43.6" text-anchor="start" fill="#000" font-family="'Liberation Serif', 'Times New Roman', serif" >Y</text>
<text transform="translate(774.40,104.30) scale(1.0,1)" font-size="43.6" text-anchor="start" fill="#000" font-family="'Liberation Serif', 'Times New Roman', serif" >Z</text>
</svg>
</body></html>
